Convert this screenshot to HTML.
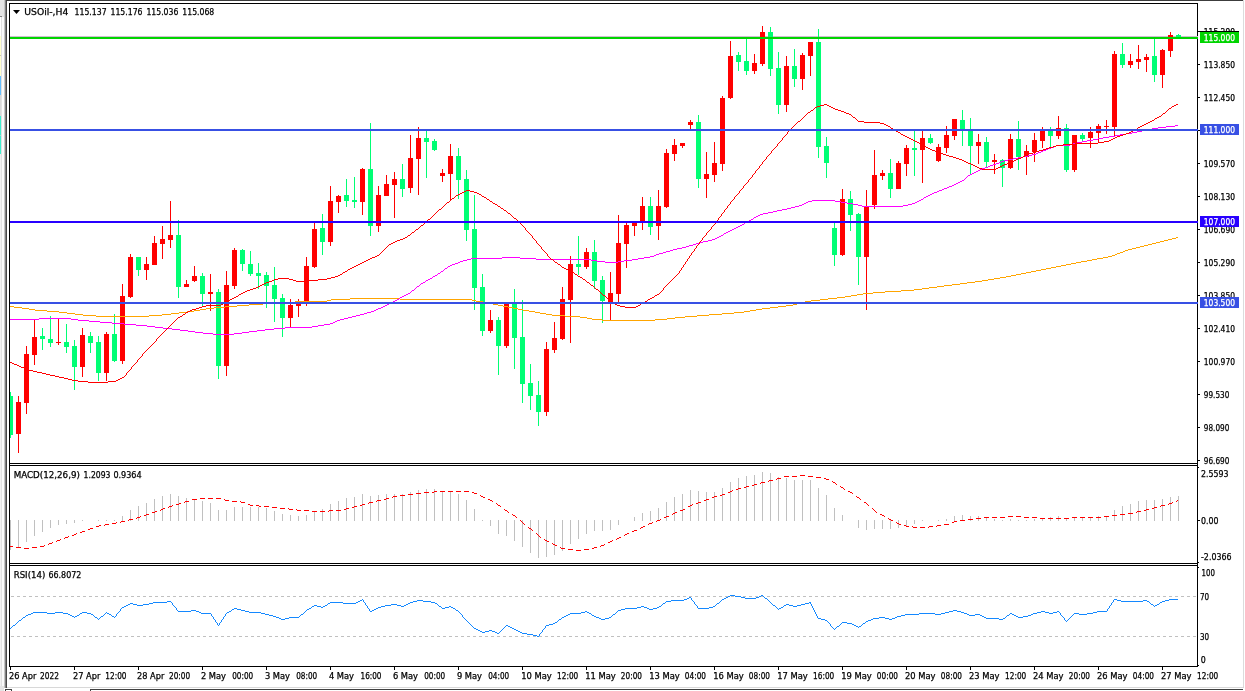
<!DOCTYPE html>
<html lang="en"><head><meta charset="utf-8"><title>USOil-,H4</title>
<style>html,body{margin:0;padding:0;background:#fff;overflow:hidden}svg{display:block}text{font-family:"DejaVu Sans Condensed","DejaVu Sans","Liberation Sans",sans-serif;font-size:9px;fill:#000;stroke:#000;stroke-width:0.25px}.w{fill:#fff;stroke:#fff}</style></head><body>
<svg width="1245" height="691" viewBox="0 0 1245 691" shape-rendering="crispEdges">
<rect x="0" y="0" width="1245" height="691" fill="#fff"/>
<g id="chrome">
<rect x="0" y="0" width="5" height="691" fill="#e4e4e4"/>
<rect x="0" y="16" width="2" height="1" fill="#808080"/>
<rect x="0" y="17" width="1" height="19" fill="#ffffff"/>
<rect x="0" y="36" width="1" height="40" fill="#ffffcc"/>
<rect x="0" y="55" width="1" height="1" fill="#c8c8b0"/>
<rect x="0" y="76" width="1" height="19" fill="#66c0ff"/>
<rect x="0" y="95" width="1" height="21" fill="#d8d8d8"/>
<rect x="0" y="116" width="1" height="38" fill="#40f0d0"/>
<rect x="0" y="135" width="1" height="1" fill="#a0e0d0"/>
<rect x="0" y="154" width="1" height="537" fill="#f0f0f0"/>
<rect x="1" y="17" width="1" height="674" fill="#e0e0e0"/>
<rect x="2" y="17" width="2" height="674" fill="#fafafa"/>
<rect x="4" y="0" width="1" height="691" fill="#c4c4c4"/>
<rect x="5" y="0" width="1" height="691" fill="#808080"/>
<rect x="6" y="0" width="1" height="691" fill="#484848"/>
<rect x="6" y="0" width="1237" height="1" fill="#3c3c3c"/>
<rect x="1243" y="0" width="1" height="689" fill="#dcdcdc"/>
<rect x="7" y="687" width="1237" height="1" fill="#d8d8d8"/>
<rect x="4" y="688" width="1241" height="3" fill="#ffffff"/>
<rect x="90" y="689" width="1153" height="1" fill="#404040"/>
<rect x="90" y="690" width="1" height="1" fill="#404040"/>
<rect x="5" y="689" width="7" height="1" fill="#404040"/>
<rect x="5" y="690" width="1" height="1" fill="#404040"/>
<rect x="11" y="690" width="1" height="1" fill="#404040"/>
<rect x="0" y="686" width="4" height="5" fill="#e4e4e4"/>
</g>
<defs><clipPath id="cm"><rect x="10" y="4" width="1187" height="459"/></clipPath><clipPath id="ct"><rect x="1198" y="20" width="45" height="11"/></clipPath></defs>
<g id="main" clip-path="url(#cm)">
<rect x="10" y="36" width="1187" height="1" fill="#d0bed0"/>
<rect x="10" y="392" width="1" height="46" fill="#00ff74"/>
<rect x="8" y="396" width="5" height="39" fill="#00ff74"/>
<rect x="18" y="396" width="1" height="57" fill="#ff0000"/>
<rect x="16" y="402" width="5" height="32" fill="#ff0000"/>
<rect x="26" y="346" width="1" height="68" fill="#ff0000"/>
<rect x="24" y="354" width="5" height="49" fill="#ff0000"/>
<rect x="34" y="320" width="1" height="45" fill="#ff0000"/>
<rect x="32" y="337" width="5" height="18" fill="#ff0000"/>
<rect x="42" y="328" width="1" height="22" fill="#00ff74"/>
<rect x="40" y="336" width="5" height="3" fill="#00ff74"/>
<rect x="50" y="316" width="1" height="31" fill="#00ff74"/>
<rect x="48" y="339" width="5" height="4" fill="#00ff74"/>
<rect x="58" y="319" width="1" height="26" fill="#ff0000"/>
<rect x="56" y="342" width="5" height="1" fill="#ff0000"/>
<rect x="66" y="324" width="1" height="29" fill="#00ff74"/>
<rect x="64" y="342" width="5" height="5" fill="#00ff74"/>
<rect x="74" y="340" width="1" height="50" fill="#00ff74"/>
<rect x="72" y="346" width="5" height="21" fill="#00ff74"/>
<rect x="82" y="328" width="1" height="49" fill="#ff0000"/>
<rect x="80" y="335" width="5" height="32" fill="#ff0000"/>
<rect x="90" y="332" width="1" height="21" fill="#00ff74"/>
<rect x="88" y="336" width="5" height="7" fill="#00ff74"/>
<rect x="98" y="336" width="1" height="45" fill="#00ff74"/>
<rect x="96" y="342" width="5" height="31" fill="#00ff74"/>
<rect x="106" y="332" width="1" height="49" fill="#ff0000"/>
<rect x="104" y="334" width="5" height="39" fill="#ff0000"/>
<rect x="114" y="314" width="1" height="48" fill="#00ff74"/>
<rect x="112" y="334" width="5" height="27" fill="#00ff74"/>
<rect x="122" y="284" width="1" height="80" fill="#ff0000"/>
<rect x="120" y="296" width="5" height="65" fill="#ff0000"/>
<rect x="130" y="254" width="1" height="44" fill="#ff0000"/>
<rect x="128" y="257" width="5" height="40" fill="#ff0000"/>
<rect x="138" y="257" width="1" height="19" fill="#00ff74"/>
<rect x="136" y="257" width="5" height="13" fill="#00ff74"/>
<rect x="146" y="257" width="1" height="23" fill="#ff0000"/>
<rect x="144" y="264" width="5" height="6" fill="#ff0000"/>
<rect x="154" y="236" width="1" height="29" fill="#ff0000"/>
<rect x="152" y="243" width="5" height="22" fill="#ff0000"/>
<rect x="162" y="226" width="1" height="33" fill="#ff0000"/>
<rect x="160" y="239" width="5" height="5" fill="#ff0000"/>
<rect x="170" y="201" width="1" height="47" fill="#ff0000"/>
<rect x="168" y="235" width="5" height="5" fill="#ff0000"/>
<rect x="178" y="220" width="1" height="78" fill="#00ff74"/>
<rect x="176" y="235" width="5" height="52" fill="#00ff74"/>
<rect x="186" y="280" width="1" height="7" fill="#ff0000"/>
<rect x="184" y="284" width="5" height="3" fill="#ff0000"/>
<rect x="194" y="266" width="1" height="16" fill="#ff0000"/>
<rect x="192" y="276" width="5" height="5" fill="#ff0000"/>
<rect x="202" y="273" width="1" height="33" fill="#00ff74"/>
<rect x="200" y="276" width="5" height="18" fill="#00ff74"/>
<rect x="210" y="274" width="1" height="37" fill="#ff0000"/>
<rect x="208" y="292" width="5" height="2" fill="#ff0000"/>
<rect x="218" y="289" width="1" height="90" fill="#00ff74"/>
<rect x="216" y="292" width="5" height="74" fill="#00ff74"/>
<rect x="226" y="271" width="1" height="105" fill="#ff0000"/>
<rect x="224" y="285" width="5" height="81" fill="#ff0000"/>
<rect x="234" y="248" width="1" height="41" fill="#ff0000"/>
<rect x="232" y="250" width="5" height="36" fill="#ff0000"/>
<rect x="242" y="249" width="1" height="22" fill="#00ff74"/>
<rect x="240" y="250" width="5" height="14" fill="#00ff74"/>
<rect x="250" y="251" width="1" height="25" fill="#00ff74"/>
<rect x="248" y="264" width="5" height="10" fill="#00ff74"/>
<rect x="258" y="263" width="1" height="26" fill="#00ff74"/>
<rect x="256" y="273" width="5" height="3" fill="#00ff74"/>
<rect x="266" y="272" width="1" height="36" fill="#00ff74"/>
<rect x="264" y="275" width="5" height="11" fill="#00ff74"/>
<rect x="274" y="267" width="1" height="55" fill="#00ff74"/>
<rect x="272" y="285" width="5" height="14" fill="#00ff74"/>
<rect x="282" y="294" width="1" height="43" fill="#00ff74"/>
<rect x="280" y="298" width="5" height="20" fill="#00ff74"/>
<rect x="290" y="299" width="1" height="28" fill="#ff0000"/>
<rect x="288" y="305" width="5" height="13" fill="#ff0000"/>
<rect x="298" y="299" width="1" height="18" fill="#ff0000"/>
<rect x="296" y="304" width="5" height="2" fill="#ff0000"/>
<rect x="306" y="257" width="1" height="49" fill="#ff0000"/>
<rect x="304" y="266" width="5" height="36" fill="#ff0000"/>
<rect x="314" y="222" width="1" height="46" fill="#ff0000"/>
<rect x="312" y="229" width="5" height="38" fill="#ff0000"/>
<rect x="322" y="214" width="1" height="41" fill="#00ff74"/>
<rect x="320" y="228" width="5" height="14" fill="#00ff74"/>
<rect x="330" y="186" width="1" height="60" fill="#ff0000"/>
<rect x="328" y="201" width="5" height="41" fill="#ff0000"/>
<rect x="338" y="195" width="1" height="18" fill="#ff0000"/>
<rect x="336" y="196" width="5" height="6" fill="#ff0000"/>
<rect x="346" y="179" width="1" height="28" fill="#00ff74"/>
<rect x="344" y="195" width="5" height="6" fill="#00ff74"/>
<rect x="354" y="177" width="1" height="31" fill="#00ff74"/>
<rect x="352" y="200" width="5" height="2" fill="#00ff74"/>
<rect x="362" y="168" width="1" height="47" fill="#ff0000"/>
<rect x="360" y="169" width="5" height="33" fill="#ff0000"/>
<rect x="370" y="123" width="1" height="113" fill="#00ff74"/>
<rect x="368" y="169" width="5" height="57" fill="#00ff74"/>
<rect x="378" y="186" width="1" height="46" fill="#ff0000"/>
<rect x="376" y="195" width="5" height="31" fill="#ff0000"/>
<rect x="386" y="175" width="1" height="21" fill="#ff0000"/>
<rect x="384" y="184" width="5" height="12" fill="#ff0000"/>
<rect x="394" y="172" width="1" height="46" fill="#ff0000"/>
<rect x="392" y="179" width="5" height="6" fill="#ff0000"/>
<rect x="402" y="164" width="1" height="33" fill="#00ff74"/>
<rect x="400" y="179" width="5" height="10" fill="#00ff74"/>
<rect x="410" y="135" width="1" height="58" fill="#ff0000"/>
<rect x="408" y="158" width="5" height="30" fill="#ff0000"/>
<rect x="418" y="127" width="1" height="68" fill="#ff0000"/>
<rect x="416" y="138" width="5" height="21" fill="#ff0000"/>
<rect x="426" y="130" width="1" height="48" fill="#00ff74"/>
<rect x="424" y="138" width="5" height="4" fill="#00ff74"/>
<rect x="434" y="139" width="1" height="12" fill="#00ff74"/>
<rect x="432" y="141" width="5" height="9" fill="#00ff74"/>
<rect x="442" y="169" width="1" height="13" fill="#ff0000"/>
<rect x="440" y="173" width="5" height="3" fill="#ff0000"/>
<rect x="450" y="144" width="1" height="56" fill="#ff0000"/>
<rect x="448" y="156" width="5" height="18" fill="#ff0000"/>
<rect x="458" y="148" width="1" height="51" fill="#00ff74"/>
<rect x="456" y="156" width="5" height="24" fill="#00ff74"/>
<rect x="466" y="170" width="1" height="71" fill="#00ff74"/>
<rect x="464" y="179" width="5" height="51" fill="#00ff74"/>
<rect x="474" y="195" width="1" height="115" fill="#00ff74"/>
<rect x="472" y="229" width="5" height="59" fill="#00ff74"/>
<rect x="482" y="274" width="1" height="62" fill="#00ff74"/>
<rect x="480" y="287" width="5" height="44" fill="#00ff74"/>
<rect x="490" y="310" width="1" height="23" fill="#ff0000"/>
<rect x="488" y="320" width="5" height="11" fill="#ff0000"/>
<rect x="498" y="317" width="1" height="58" fill="#00ff74"/>
<rect x="496" y="320" width="5" height="26" fill="#00ff74"/>
<rect x="506" y="303" width="1" height="45" fill="#ff0000"/>
<rect x="504" y="303" width="5" height="43" fill="#ff0000"/>
<rect x="514" y="289" width="1" height="80" fill="#00ff74"/>
<rect x="512" y="304" width="5" height="34" fill="#00ff74"/>
<rect x="522" y="300" width="1" height="103" fill="#00ff74"/>
<rect x="520" y="337" width="5" height="47" fill="#00ff74"/>
<rect x="530" y="364" width="1" height="46" fill="#00ff74"/>
<rect x="528" y="383" width="5" height="13" fill="#00ff74"/>
<rect x="538" y="381" width="1" height="45" fill="#00ff74"/>
<rect x="536" y="395" width="5" height="17" fill="#00ff74"/>
<rect x="546" y="342" width="1" height="74" fill="#ff0000"/>
<rect x="544" y="349" width="5" height="63" fill="#ff0000"/>
<rect x="554" y="322" width="1" height="31" fill="#ff0000"/>
<rect x="552" y="338" width="5" height="12" fill="#ff0000"/>
<rect x="562" y="287" width="1" height="53" fill="#ff0000"/>
<rect x="560" y="299" width="5" height="40" fill="#ff0000"/>
<rect x="570" y="256" width="1" height="87" fill="#ff0000"/>
<rect x="568" y="264" width="5" height="36" fill="#ff0000"/>
<rect x="578" y="236" width="1" height="39" fill="#00ff74"/>
<rect x="576" y="264" width="5" height="3" fill="#00ff74"/>
<rect x="586" y="248" width="1" height="21" fill="#ff0000"/>
<rect x="584" y="252" width="5" height="15" fill="#ff0000"/>
<rect x="594" y="240" width="1" height="49" fill="#00ff74"/>
<rect x="592" y="252" width="5" height="29" fill="#00ff74"/>
<rect x="602" y="276" width="1" height="47" fill="#00ff74"/>
<rect x="600" y="280" width="5" height="21" fill="#00ff74"/>
<rect x="610" y="272" width="1" height="48" fill="#ff0000"/>
<rect x="608" y="293" width="5" height="9" fill="#ff0000"/>
<rect x="618" y="215" width="1" height="87" fill="#ff0000"/>
<rect x="616" y="243" width="5" height="51" fill="#ff0000"/>
<rect x="626" y="223" width="1" height="45" fill="#ff0000"/>
<rect x="624" y="225" width="5" height="19" fill="#ff0000"/>
<rect x="634" y="222" width="1" height="14" fill="#ff0000"/>
<rect x="632" y="222" width="5" height="4" fill="#ff0000"/>
<rect x="642" y="197" width="1" height="33" fill="#ff0000"/>
<rect x="640" y="206" width="5" height="16" fill="#ff0000"/>
<rect x="650" y="197" width="1" height="38" fill="#00ff74"/>
<rect x="648" y="206" width="5" height="21" fill="#00ff74"/>
<rect x="658" y="190" width="1" height="50" fill="#ff0000"/>
<rect x="656" y="206" width="5" height="20" fill="#ff0000"/>
<rect x="666" y="149" width="1" height="59" fill="#ff0000"/>
<rect x="664" y="153" width="5" height="54" fill="#ff0000"/>
<rect x="674" y="139" width="1" height="22" fill="#ff0000"/>
<rect x="672" y="145" width="5" height="9" fill="#ff0000"/>
<rect x="682" y="143" width="1" height="5" fill="#ff0000"/>
<rect x="680" y="143" width="5" height="3" fill="#ff0000"/>
<rect x="690" y="120" width="1" height="10" fill="#ff0000"/>
<rect x="688" y="122" width="5" height="3" fill="#ff0000"/>
<rect x="698" y="115" width="1" height="73" fill="#00ff74"/>
<rect x="696" y="122" width="5" height="57" fill="#00ff74"/>
<rect x="706" y="152" width="1" height="46" fill="#ff0000"/>
<rect x="704" y="174" width="5" height="5" fill="#ff0000"/>
<rect x="714" y="142" width="1" height="40" fill="#ff0000"/>
<rect x="712" y="163" width="5" height="12" fill="#ff0000"/>
<rect x="722" y="96" width="1" height="75" fill="#ff0000"/>
<rect x="720" y="98" width="5" height="66" fill="#ff0000"/>
<rect x="730" y="41" width="1" height="58" fill="#ff0000"/>
<rect x="728" y="56" width="5" height="42" fill="#ff0000"/>
<rect x="738" y="52" width="1" height="19" fill="#00ff74"/>
<rect x="736" y="55" width="5" height="7" fill="#00ff74"/>
<rect x="746" y="37" width="1" height="38" fill="#00ff74"/>
<rect x="744" y="61" width="5" height="10" fill="#00ff74"/>
<rect x="754" y="54" width="1" height="20" fill="#ff0000"/>
<rect x="752" y="63" width="5" height="8" fill="#ff0000"/>
<rect x="762" y="26" width="1" height="40" fill="#ff0000"/>
<rect x="760" y="32" width="5" height="32" fill="#ff0000"/>
<rect x="770" y="27" width="1" height="49" fill="#00ff74"/>
<rect x="768" y="32" width="5" height="37" fill="#00ff74"/>
<rect x="778" y="52" width="1" height="62" fill="#00ff74"/>
<rect x="776" y="68" width="5" height="37" fill="#00ff74"/>
<rect x="786" y="56" width="1" height="56" fill="#ff0000"/>
<rect x="784" y="66" width="5" height="39" fill="#ff0000"/>
<rect x="794" y="49" width="1" height="38" fill="#00ff74"/>
<rect x="792" y="66" width="5" height="13" fill="#00ff74"/>
<rect x="802" y="53" width="1" height="37" fill="#ff0000"/>
<rect x="800" y="55" width="5" height="24" fill="#ff0000"/>
<rect x="810" y="42" width="1" height="34" fill="#ff0000"/>
<rect x="808" y="42" width="5" height="14" fill="#ff0000"/>
<rect x="818" y="29" width="1" height="129" fill="#00ff74"/>
<rect x="816" y="42" width="5" height="105" fill="#00ff74"/>
<rect x="826" y="137" width="1" height="41" fill="#00ff74"/>
<rect x="824" y="146" width="5" height="17" fill="#00ff74"/>
<rect x="834" y="221" width="1" height="45" fill="#00ff74"/>
<rect x="832" y="228" width="5" height="27" fill="#00ff74"/>
<rect x="842" y="189" width="1" height="67" fill="#ff0000"/>
<rect x="840" y="199" width="5" height="56" fill="#ff0000"/>
<rect x="850" y="191" width="1" height="40" fill="#00ff74"/>
<rect x="848" y="199" width="5" height="16" fill="#00ff74"/>
<rect x="858" y="213" width="1" height="72" fill="#00ff74"/>
<rect x="856" y="214" width="5" height="43" fill="#00ff74"/>
<rect x="866" y="190" width="1" height="120" fill="#ff0000"/>
<rect x="864" y="206" width="5" height="51" fill="#ff0000"/>
<rect x="874" y="150" width="1" height="59" fill="#ff0000"/>
<rect x="872" y="175" width="5" height="30" fill="#ff0000"/>
<rect x="882" y="170" width="1" height="10" fill="#ff0000"/>
<rect x="880" y="173" width="5" height="3" fill="#ff0000"/>
<rect x="890" y="159" width="1" height="39" fill="#00ff74"/>
<rect x="888" y="173" width="5" height="16" fill="#00ff74"/>
<rect x="898" y="161" width="1" height="28" fill="#ff0000"/>
<rect x="896" y="163" width="5" height="26" fill="#ff0000"/>
<rect x="906" y="145" width="1" height="31" fill="#ff0000"/>
<rect x="904" y="148" width="5" height="16" fill="#ff0000"/>
<rect x="914" y="130" width="1" height="46" fill="#00ff74"/>
<rect x="912" y="148" width="5" height="2" fill="#00ff74"/>
<rect x="922" y="130" width="1" height="53" fill="#ff0000"/>
<rect x="920" y="138" width="5" height="12" fill="#ff0000"/>
<rect x="930" y="134" width="1" height="10" fill="#00ff74"/>
<rect x="928" y="138" width="5" height="5" fill="#00ff74"/>
<rect x="938" y="144" width="1" height="18" fill="#ff0000"/>
<rect x="936" y="147" width="5" height="14" fill="#ff0000"/>
<rect x="946" y="126" width="1" height="27" fill="#ff0000"/>
<rect x="944" y="135" width="5" height="13" fill="#ff0000"/>
<rect x="954" y="119" width="1" height="21" fill="#ff0000"/>
<rect x="952" y="119" width="5" height="17" fill="#ff0000"/>
<rect x="962" y="110" width="1" height="36" fill="#00ff74"/>
<rect x="960" y="120" width="5" height="10" fill="#00ff74"/>
<rect x="970" y="118" width="1" height="56" fill="#00ff74"/>
<rect x="968" y="130" width="5" height="16" fill="#00ff74"/>
<rect x="978" y="134" width="1" height="30" fill="#ff0000"/>
<rect x="976" y="142" width="5" height="4" fill="#ff0000"/>
<rect x="986" y="137" width="1" height="30" fill="#00ff74"/>
<rect x="984" y="142" width="5" height="20" fill="#00ff74"/>
<rect x="994" y="154" width="1" height="20" fill="#ff0000"/>
<rect x="992" y="160" width="5" height="2" fill="#ff0000"/>
<rect x="1002" y="159" width="1" height="28" fill="#00ff74"/>
<rect x="1000" y="160" width="5" height="8" fill="#00ff74"/>
<rect x="1010" y="134" width="1" height="35" fill="#ff0000"/>
<rect x="1008" y="139" width="5" height="29" fill="#ff0000"/>
<rect x="1018" y="121" width="1" height="49" fill="#00ff74"/>
<rect x="1016" y="139" width="5" height="18" fill="#00ff74"/>
<rect x="1026" y="145" width="1" height="30" fill="#ff0000"/>
<rect x="1024" y="151" width="5" height="6" fill="#ff0000"/>
<rect x="1034" y="133" width="1" height="29" fill="#ff0000"/>
<rect x="1032" y="140" width="5" height="12" fill="#ff0000"/>
<rect x="1042" y="127" width="1" height="21" fill="#ff0000"/>
<rect x="1040" y="130" width="5" height="11" fill="#ff0000"/>
<rect x="1050" y="127" width="1" height="21" fill="#00ff74"/>
<rect x="1048" y="131" width="5" height="5" fill="#00ff74"/>
<rect x="1058" y="116" width="1" height="23" fill="#ff0000"/>
<rect x="1056" y="128" width="5" height="8" fill="#ff0000"/>
<rect x="1066" y="124" width="1" height="48" fill="#00ff74"/>
<rect x="1064" y="128" width="5" height="42" fill="#00ff74"/>
<rect x="1074" y="135" width="1" height="37" fill="#ff0000"/>
<rect x="1072" y="135" width="5" height="35" fill="#ff0000"/>
<rect x="1082" y="133" width="1" height="8" fill="#00ff74"/>
<rect x="1080" y="135" width="5" height="4" fill="#00ff74"/>
<rect x="1090" y="127" width="1" height="21" fill="#ff0000"/>
<rect x="1088" y="132" width="5" height="6" fill="#ff0000"/>
<rect x="1098" y="124" width="1" height="19" fill="#ff0000"/>
<rect x="1096" y="126" width="5" height="7" fill="#ff0000"/>
<rect x="1106" y="120" width="1" height="14" fill="#ff0000"/>
<rect x="1104" y="126" width="5" height="1" fill="#ff0000"/>
<rect x="1114" y="51" width="1" height="85" fill="#ff0000"/>
<rect x="1112" y="54" width="5" height="73" fill="#ff0000"/>
<rect x="1122" y="43" width="1" height="25" fill="#00ff74"/>
<rect x="1120" y="54" width="5" height="11" fill="#00ff74"/>
<rect x="1130" y="54" width="1" height="14" fill="#ff0000"/>
<rect x="1128" y="61" width="5" height="4" fill="#ff0000"/>
<rect x="1138" y="45" width="1" height="24" fill="#ff0000"/>
<rect x="1136" y="59" width="5" height="3" fill="#ff0000"/>
<rect x="1146" y="54" width="1" height="18" fill="#ff0000"/>
<rect x="1144" y="57" width="5" height="3" fill="#ff0000"/>
<rect x="1154" y="38" width="1" height="44" fill="#00ff74"/>
<rect x="1152" y="56" width="5" height="19" fill="#00ff74"/>
<rect x="1162" y="49" width="1" height="39" fill="#ff0000"/>
<rect x="1160" y="50" width="5" height="25" fill="#ff0000"/>
<rect x="1170" y="32" width="1" height="25" fill="#ff0000"/>
<rect x="1168" y="35" width="5" height="16" fill="#ff0000"/>
<rect x="1178" y="34" width="1" height="3" fill="#00ff74"/>
<rect x="1176" y="35" width="5" height="2" fill="#00ff74"/>
<path d="M10 306h4v1h-4zM14 307h8v1h-8zM22 308h7v1h-7zM29 309h6v1h-6zM35 310h12v1h-12zM47 311h12v1h-12zM59 312h8v1h-8zM67 313h8v1h-8zM75 314h8v1h-8zM83 315h13v1h-13zM96 316h53v1h-53zM149 315h13v1h-13zM162 314h9v1h-9zM171 313h8v1h-8zM179 312h8v1h-8zM187 311h7v1h-7zM194 310h6v1h-6zM200 309h6v1h-6zM206 308h8v1h-8zM214 307h11v1h-11zM225 306h12v1h-12zM237 305h12v1h-12zM249 304h14v1h-14zM263 303h16v1h-16zM279 302h16v1h-16zM295 301h32v1h-32zM327 300h4v1h-4zM331 299h19v1h-19zM350 298h50v1h-50zM400 299h72v1h-72zM472 300h4v1h-4zM476 301h7v1h-7zM483 302h5v1h-5zM488 303h5v1h-5zM493 304h5v1h-5zM498 305h5v1h-5zM503 306h5v1h-5zM508 307h5v1h-5zM513 308h5v1h-5zM518 309h5v1h-5zM523 310h6v1h-6zM529 311h6v1h-6zM535 312h5v1h-5zM540 313h6v1h-6zM546 314h6v1h-6zM552 315h13v1h-13zM565 316h15v1h-15zM580 317h7v1h-7zM587 318h5v1h-5zM592 319h10v1h-10zM602 320h53v1h-53zM655 319h12v1h-12zM667 318h8v1h-8zM675 317h10v1h-10zM685 316h12v1h-12zM697 315h12v1h-12zM709 314h13v1h-13zM722 313h12v1h-12zM734 312h10v1h-10zM744 311h6v1h-6zM750 310h6v1h-6zM756 309h6v1h-6zM762 308h8v1h-8zM770 307h8v1h-8zM778 306h8v1h-8zM786 305h7v1h-7zM793 304h4v1h-4zM797 303h4v1h-4zM801 302h4v1h-4zM805 301h6v1h-6zM811 300h9v1h-9zM820 299h8v1h-8zM828 298h9v1h-9zM837 297h8v1h-8zM845 296h6v1h-6zM851 295h6v1h-6zM857 294h6v1h-6zM863 293h10v1h-10zM873 292h12v1h-12zM885 291h16v1h-16zM901 290h13v1h-13zM914 289h8v1h-8zM922 288h7v1h-7zM929 287h8v1h-8zM937 286h7v1h-7zM944 285h8v1h-8zM952 284h8v1h-8zM960 283h7v1h-7zM967 282h8v1h-8zM975 281h7v1h-7zM982 280h6v1h-6zM988 279h6v1h-6zM994 278h6v1h-6zM1000 277h6v1h-6zM1006 276h5v1h-5zM1011 275h5v1h-5zM1016 274h5v1h-5zM1021 273h5v1h-5zM1026 272h5v1h-5zM1031 271h5v1h-5zM1036 270h5v1h-5zM1041 269h5v1h-5zM1046 268h5v1h-5zM1051 267h5v1h-5zM1056 266h5v1h-5zM1061 265h5v1h-5zM1066 264h5v1h-5zM1071 263h5v1h-5zM1076 262h5v1h-5zM1081 261h6v1h-6zM1087 260h5v1h-5zM1092 259h5v1h-5zM1097 258h6v1h-6zM1103 257h5v1h-5zM1108 256h4v1h-4zM1112 255h3v1h-3zM1115 254h2v1h-2zM1117 253h3v1h-3zM1120 252h3v1h-3zM1123 251h2v1h-2zM1125 250h3v1h-3zM1128 249h4v1h-4zM1132 248h4v1h-4zM1136 247h4v1h-4zM1140 246h4v1h-4zM1144 245h4v1h-4zM1148 244h4v1h-4zM1152 243h4v1h-4zM1156 242h4v1h-4zM1160 241h4v1h-4zM1164 240h4v1h-4zM1168 239h4v1h-4zM1172 238h4v1h-4zM1176 237h2v1h-2z" fill="#ffa500"/>
<path d="M10 319h29v1h-29zM39 318h32v1h-32zM71 319h7v1h-7zM78 320h11v1h-11zM89 321h11v1h-11zM100 322h12v1h-12zM112 323h12v1h-12zM124 324h12v1h-12zM136 325h11v1h-11zM147 326h8v1h-8zM155 327h8v1h-8zM163 328h9v1h-9zM172 329h8v1h-8zM180 330h8v1h-8zM188 331h7v1h-7zM195 332h8v1h-8zM203 333h10v1h-10zM213 334h21v1h-21zM234 333h8v1h-8zM242 332h7v1h-7zM249 331h8v1h-8zM257 330h8v1h-8zM265 329h9v1h-9zM274 328h11v1h-11zM285 327h27v1h-27zM312 326h6v1h-6zM318 325h6v1h-6zM324 324h6v1h-6zM330 323h3v1h-3zM333 322h2v1h-2zM335 321h2v1h-2zM337 320h3v1h-3zM340 319h4v1h-4zM344 318h4v1h-4zM348 317h4v1h-4zM352 316h4v1h-4zM356 315h4v1h-4zM360 314h4v1h-4zM364 313h3v1h-3zM367 312h4v1h-4zM371 311h3v1h-3zM374 310h2v1h-2zM376 309h2v1h-2zM378 308h3v1h-3zM381 307h2v1h-2zM383 306h2v1h-2zM385 305h2v1h-2zM387 304h2v1h-2zM389 303h2v1h-2zM391 302h2v1h-2zM393 301h2v1h-2zM395 300h2v1h-2zM397 299h2v1h-2zM399 298h1v1h-1zM400 297h2v1h-2zM402 296h2v1h-2zM404 295h2v1h-2zM406 294h2v1h-2zM408 293h2v1h-2zM410 292h1v1h-1zM411 291h1v1h-1zM412 290h2v1h-2zM414 289h1v1h-1zM415 288h1v1h-1zM416 287h1v1h-1zM417 286h2v1h-2zM419 285h1v1h-1zM420 284h1v1h-1zM421 283h2v1h-2zM423 282h2v1h-2zM425 281h1v1h-1zM426 280h2v1h-2zM428 279h2v1h-2zM430 278h2v1h-2zM432 277h1v1h-1zM433 276h2v1h-2zM435 275h2v1h-2zM437 274h1v1h-1zM438 273h2v1h-2zM440 272h1v1h-1zM441 271h2v1h-2zM443 270h1v1h-1zM444 269h1v1h-1zM445 268h2v1h-2zM447 267h1v1h-1zM448 266h2v1h-2zM450 265h2v1h-2zM452 264h3v1h-3zM455 263h3v1h-3zM458 262h2v1h-2zM460 261h3v1h-3zM463 260h4v1h-4zM467 259h4v1h-4zM471 258h31v1h-31zM502 257h18v1h-18zM520 258h16v1h-16zM536 259h55v1h-55zM591 260h6v1h-6zM597 261h8v1h-8zM605 262h13v1h-13zM618 261h6v1h-6zM624 260h8v1h-8zM632 259h6v1h-6zM638 258h6v1h-6zM644 257h6v1h-6zM650 256h4v1h-4zM654 255h2v1h-2zM656 254h3v1h-3zM659 253h4v1h-4zM663 252h3v1h-3zM666 251h4v1h-4zM670 250h3v1h-3zM673 249h4v1h-4zM677 248h5v1h-5zM682 247h4v1h-4zM686 246h3v1h-3zM689 245h4v1h-4zM693 244h3v1h-3zM696 243h3v1h-3zM699 242h4v1h-4zM703 241h5v1h-5zM708 240h4v1h-4zM712 239h3v1h-3zM715 238h2v1h-2zM717 237h2v1h-2zM719 236h2v1h-2zM721 235h2v1h-2zM723 234h1v1h-1zM724 233h2v1h-2zM726 232h2v1h-2zM728 231h2v1h-2zM730 230h2v1h-2zM732 229h2v1h-2zM734 228h2v1h-2zM736 227h2v1h-2zM738 226h2v1h-2zM740 225h2v1h-2zM742 224h2v1h-2zM744 223h1v1h-1zM745 222h2v1h-2zM747 221h2v1h-2zM749 220h2v1h-2zM751 219h2v1h-2zM753 218h1v1h-1zM754 217h2v1h-2zM756 216h2v1h-2zM758 215h2v1h-2zM760 214h3v1h-3zM763 213h5v1h-5zM768 212h5v1h-5zM773 211h4v1h-4zM777 210h5v1h-5zM782 209h5v1h-5zM787 208h4v1h-4zM791 207h4v1h-4zM795 206h4v1h-4zM799 205h3v1h-3zM802 204h2v1h-2zM804 203h2v1h-2zM806 202h2v1h-2zM808 201h4v1h-4zM812 200h23v1h-23zM835 201h6v1h-6zM841 202h6v1h-6zM847 203h6v1h-6zM853 204h5v1h-5zM858 205h4v1h-4zM862 206h41v1h-41zM903 205h5v1h-5zM908 204h4v1h-4zM912 203h3v1h-3zM915 202h2v1h-2zM917 201h2v1h-2zM919 200h2v1h-2zM921 199h2v1h-2zM923 198h1v1h-1zM924 197h2v1h-2zM926 196h2v1h-2zM928 195h2v1h-2zM930 194h2v1h-2zM932 193h2v1h-2zM934 192h3v1h-3zM937 191h2v1h-2zM939 190h3v1h-3zM942 189h2v1h-2zM944 188h3v1h-3zM947 187h2v1h-2zM949 186h3v1h-3zM952 185h2v1h-2zM954 184h2v1h-2zM956 183h2v1h-2zM958 182h2v1h-2zM960 181h2v1h-2zM962 180h2v1h-2zM964 179h1v1h-1zM965 178h1v1h-1zM966 177h1v1h-1zM967 176h1v1h-1zM968 175h2v1h-2zM970 174h2v1h-2zM972 173h2v1h-2zM974 172h2v1h-2zM976 171h2v1h-2zM978 170h2v1h-2zM980 169h2v1h-2zM982 168h3v1h-3zM985 167h3v1h-3zM988 166h2v1h-2zM990 165h3v1h-3zM993 164h3v1h-3zM996 163h3v1h-3zM999 162h2v1h-2zM1001 161h3v1h-3zM1004 160h4v1h-4zM1008 159h5v1h-5zM1013 158h5v1h-5zM1018 157h5v1h-5zM1023 156h5v1h-5zM1028 155h4v1h-4zM1032 154h4v1h-4zM1036 153h2v1h-2zM1038 152h3v1h-3zM1041 151h2v1h-2zM1043 150h3v1h-3zM1046 149h2v1h-2zM1048 148h3v1h-3zM1051 147h3v1h-3zM1054 146h2v1h-2zM1056 145h14v1h-14zM1070 144h3v1h-3zM1073 143h4v1h-4zM1077 142h5v1h-5zM1082 141h5v1h-5zM1087 140h6v1h-6zM1093 139h5v1h-5zM1098 138h5v1h-5zM1103 137h6v1h-6zM1109 136h6v1h-6zM1115 135h5v1h-5zM1120 134h6v1h-6zM1126 133h6v1h-6zM1132 132h5v1h-5zM1137 131h5v1h-5zM1142 130h5v1h-5zM1147 129h5v1h-5zM1152 128h6v1h-6zM1158 127h8v1h-8zM1166 126h9v1h-9zM1175 125h3v1h-3z" fill="#ff00ff"/>
<path d="M10 362h2v1h-2zM12 363h2v1h-2zM14 364h3v1h-3zM17 365h2v1h-2zM19 366h2v1h-2zM21 367h3v1h-3zM24 368h3v1h-3zM27 369h2v1h-2zM29 370h4v1h-4zM33 371h4v1h-4zM37 372h5v1h-5zM42 373h4v1h-4zM46 374h4v1h-4zM50 375h5v1h-5zM55 376h4v1h-4zM59 377h5v1h-5zM64 378h4v1h-4zM68 379h4v1h-4zM72 380h6v1h-6zM78 381h10v1h-10zM88 382h20v1h-20zM108 381h8v1h-8zM116 380h2v1h-2zM118 379h2v1h-2zM120 378h2v1h-2zM122 377h2v1h-2zM124 376h1v1h-1zM125 375h1v1h-1zM126 373h1v2h-1zM127 372h1v1h-1zM128 371h1v1h-1zM129 370h1v1h-1zM130 369h1v1h-1zM131 367h1v2h-1zM132 366h1v1h-1zM133 365h1v1h-1zM134 364h1v1h-1zM135 363h1v1h-1zM136 362h1v1h-1zM137 360h1v2h-1zM138 359h1v1h-1zM139 358h1v1h-1zM140 357h1v1h-1zM141 356h1v1h-1zM142 354h1v2h-1zM143 353h1v1h-1zM144 352h1v1h-1zM145 351h1v1h-1zM146 350h1v1h-1zM147 349h1v1h-1zM148 348h1v1h-1zM149 347h1v1h-1zM150 346h1v1h-1zM151 345h1v1h-1zM152 344h1v1h-1zM153 343h1v1h-1zM154 342h1v1h-1zM155 341h1v1h-1zM156 339h1v2h-1zM157 338h1v1h-1zM158 337h1v1h-1zM159 336h1v1h-1zM160 335h1v1h-1zM161 334h1v1h-1zM162 333h1v1h-1zM163 332h1v1h-1zM164 331h1v1h-1zM165 330h1v1h-1zM166 329h1v1h-1zM167 328h1v1h-1zM168 327h1v1h-1zM169 326h1v1h-1zM170 325h1v1h-1zM171 324h1v1h-1zM172 323h1v1h-1zM173 322h1v1h-1zM174 321h1v1h-1zM175 320h1v1h-1zM176 319h1v1h-1zM177 318h1v1h-1zM178 317h2v1h-2zM180 316h2v1h-2zM182 315h1v1h-1zM183 314h2v1h-2zM185 313h1v1h-1zM186 312h2v1h-2zM188 311h2v1h-2zM190 310h2v1h-2zM192 309h4v1h-4zM196 308h3v1h-3zM199 307h3v1h-3zM202 306h4v1h-4zM206 305h15v1h-15zM221 304h2v1h-2zM223 303h2v1h-2zM225 302h2v1h-2zM227 301h2v1h-2zM229 300h1v1h-1zM230 299h2v1h-2zM232 298h2v1h-2zM234 297h2v1h-2zM236 296h2v1h-2zM238 295h1v1h-1zM239 294h2v1h-2zM241 293h2v1h-2zM243 292h2v1h-2zM245 291h2v1h-2zM247 290h3v1h-3zM250 289h3v1h-3zM253 288h3v1h-3zM256 287h2v1h-2zM258 286h2v1h-2zM260 285h2v1h-2zM262 284h2v1h-2zM264 283h2v1h-2zM266 282h3v1h-3zM269 281h3v1h-3zM272 280h2v1h-2zM274 279h4v1h-4zM278 278h11v1h-11zM289 279h4v1h-4zM293 280h3v1h-3zM296 281h12v1h-12zM308 280h10v1h-10zM318 279h9v1h-9zM327 278h4v1h-4zM331 277h4v1h-4zM335 276h3v1h-3zM338 275h2v1h-2zM340 274h2v1h-2zM342 273h1v1h-1zM343 272h2v1h-2zM345 271h2v1h-2zM347 270h1v1h-1zM348 269h2v1h-2zM350 268h2v1h-2zM352 267h2v1h-2zM354 266h2v1h-2zM356 265h2v1h-2zM358 264h2v1h-2zM360 263h2v1h-2zM362 262h2v1h-2zM364 261h2v1h-2zM366 260h2v1h-2zM368 259h2v1h-2zM370 258h2v1h-2zM372 257h3v1h-3zM375 256h2v1h-2zM377 255h2v1h-2zM379 254h1v1h-1zM380 253h1v1h-1zM381 252h1v1h-1zM382 251h1v1h-1zM383 250h1v1h-1zM384 249h1v1h-1zM385 248h1v1h-1zM386 247h1v1h-1zM387 246h1v1h-1zM388 245h1v1h-1zM389 244h2v1h-2zM391 243h2v1h-2zM393 242h2v1h-2zM395 241h2v1h-2zM397 240h3v1h-3zM400 239h3v1h-3zM403 238h2v1h-2zM405 237h2v1h-2zM407 236h1v1h-1zM408 235h2v1h-2zM410 234h1v1h-1zM411 233h1v1h-1zM412 232h2v1h-2zM414 231h1v1h-1zM415 230h1v1h-1zM416 229h2v1h-2zM418 228h1v1h-1zM419 227h1v1h-1zM420 226h1v1h-1zM421 225h2v1h-2zM423 224h1v1h-1zM424 223h1v1h-1zM425 222h1v1h-1zM426 221h1v1h-1zM427 220h1v1h-1zM428 219h2v1h-2zM430 218h1v1h-1zM431 217h1v1h-1zM432 216h1v1h-1zM433 215h1v1h-1zM434 214h1v1h-1zM435 213h1v1h-1zM436 212h1v1h-1zM437 211h1v1h-1zM438 210h1v1h-1zM439 209h2v1h-2zM441 208h1v1h-1zM442 207h1v1h-1zM443 206h1v1h-1zM444 205h1v1h-1zM445 204h1v1h-1zM446 203h1v1h-1zM447 202h2v1h-2zM449 201h1v1h-1zM450 200h1v1h-1zM451 199h1v1h-1zM452 198h2v1h-2zM454 197h1v1h-1zM455 196h1v1h-1zM456 195h2v1h-2zM458 194h2v1h-2zM460 193h2v1h-2zM462 192h2v1h-2zM464 191h2v1h-2zM466 190h4v1h-4zM470 191h4v1h-4zM474 192h3v1h-3zM477 193h2v1h-2zM479 194h2v1h-2zM481 195h1v1h-1zM482 196h2v1h-2zM484 197h2v1h-2zM486 198h1v1h-1zM487 199h2v1h-2zM489 200h1v1h-1zM490 201h2v1h-2zM492 202h1v1h-1zM493 203h2v1h-2zM495 204h2v1h-2zM497 205h1v1h-1zM498 206h2v1h-2zM500 207h1v1h-1zM501 208h2v1h-2zM503 209h1v1h-1zM504 210h2v1h-2zM506 211h1v1h-1zM507 212h1v1h-1zM508 213h2v1h-2zM510 214h1v1h-1zM511 215h1v1h-1zM512 216h1v1h-1zM513 217h1v1h-1zM514 218h2v1h-2zM516 219h1v1h-1zM517 220h1v1h-1zM518 221h1v1h-1zM519 222h1v1h-1zM520 223h1v1h-1zM521 224h1v1h-1zM522 225h1v1h-1zM523 226h1v1h-1zM524 227h1v1h-1zM525 228h1v2h-1zM526 230h1v1h-1zM527 231h1v1h-1zM528 232h1v1h-1zM529 233h1v1h-1zM530 234h1v1h-1zM531 235h1v1h-1zM532 236h1v2h-1zM533 238h1v1h-1zM534 239h1v1h-1zM535 240h1v1h-1zM536 241h1v2h-1zM537 243h1v1h-1zM538 244h1v1h-1zM539 245h1v1h-1zM540 246h1v1h-1zM541 247h1v2h-1zM542 249h1v1h-1zM543 250h1v1h-1zM544 251h1v1h-1zM545 252h1v1h-1zM546 253h1v1h-1zM547 254h1v2h-1zM548 256h1v1h-1zM549 257h1v1h-1zM550 258h1v1h-1zM551 259h2v1h-2zM553 260h1v1h-1zM554 261h1v1h-1zM555 262h2v1h-2zM557 263h1v1h-1zM558 264h2v1h-2zM560 265h1v1h-1zM561 266h1v1h-1zM562 267h2v1h-2zM564 268h2v1h-2zM566 269h2v1h-2zM568 270h2v1h-2zM570 271h2v1h-2zM572 272h2v1h-2zM574 273h1v1h-1zM575 274h2v1h-2zM577 275h1v1h-1zM578 276h2v1h-2zM580 277h2v1h-2zM582 278h1v1h-1zM583 279h2v1h-2zM585 280h1v1h-1zM586 281h1v1h-1zM587 282h2v1h-2zM589 283h1v1h-1zM590 284h1v1h-1zM591 285h2v1h-2zM593 286h1v1h-1zM594 287h1v1h-1zM595 288h1v1h-1zM596 289h2v1h-2zM598 290h1v1h-1zM599 291h1v1h-1zM600 292h1v1h-1zM601 293h1v1h-1zM602 294h1v1h-1zM603 295h2v1h-2zM605 296h1v1h-1zM606 297h1v1h-1zM607 298h1v1h-1zM608 299h1v1h-1zM609 300h1v1h-1zM610 301h2v1h-2zM612 302h2v1h-2zM614 303h1v1h-1zM615 304h2v1h-2zM617 305h3v1h-3zM620 306h5v1h-5zM625 307h11v1h-11zM636 306h2v1h-2zM638 305h2v1h-2zM640 304h1v1h-1zM641 303h2v1h-2zM643 302h2v1h-2zM645 301h2v1h-2zM647 300h1v1h-1zM648 299h2v1h-2zM650 298h2v1h-2zM652 297h2v1h-2zM654 296h1v1h-1zM655 295h2v1h-2zM657 294h2v1h-2zM659 293h1v1h-1zM660 292h1v1h-1zM661 291h1v1h-1zM662 290h1v1h-1zM663 288h1v2h-1zM664 287h1v1h-1zM665 286h1v1h-1zM666 285h1v1h-1zM667 284h1v1h-1zM668 283h1v1h-1zM669 282h1v1h-1zM670 281h1v1h-1zM671 280h1v1h-1zM672 279h1v1h-1zM673 278h1v1h-1zM674 277h1v1h-1zM675 276h1v1h-1zM676 275h1v1h-1zM677 274h1v1h-1zM678 273h1v1h-1zM679 271h1v2h-1zM680 270h1v1h-1zM681 268h1v2h-1zM682 267h1v1h-1zM683 265h1v2h-1zM684 264h1v1h-1zM685 262h1v2h-1zM686 261h1v1h-1zM687 259h1v2h-1zM688 258h1v1h-1zM689 256h1v2h-1zM690 255h1v1h-1zM691 253h1v2h-1zM692 252h1v1h-1zM693 251h1v1h-1zM694 249h1v2h-1zM695 248h1v1h-1zM696 246h1v2h-1zM697 245h1v1h-1zM698 244h1v1h-1zM699 242h1v2h-1zM700 241h1v1h-1zM701 240h1v1h-1zM702 238h1v2h-1zM703 237h1v1h-1zM704 236h1v1h-1zM705 235h1v1h-1zM706 233h1v2h-1zM707 232h1v1h-1zM708 231h1v1h-1zM709 230h1v1h-1zM710 229h1v1h-1zM711 227h1v2h-1zM712 226h1v1h-1zM713 225h1v1h-1zM714 224h1v1h-1zM715 222h1v2h-1zM716 221h1v1h-1zM717 220h1v1h-1zM718 218h1v2h-1zM719 217h1v1h-1zM720 216h1v1h-1zM721 214h1v2h-1zM722 213h1v1h-1zM723 212h1v1h-1zM724 210h1v2h-1zM725 209h1v1h-1zM726 208h1v1h-1zM727 206h1v2h-1zM728 205h1v1h-1zM729 204h1v1h-1zM730 202h1v2h-1zM731 201h1v1h-1zM732 200h1v1h-1zM733 199h1v1h-1zM734 197h1v2h-1zM735 196h1v1h-1zM736 195h1v1h-1zM737 194h1v1h-1zM738 193h1v1h-1zM739 191h1v2h-1zM740 190h1v1h-1zM741 189h1v1h-1zM742 188h1v1h-1zM743 186h1v2h-1zM744 185h1v1h-1zM745 184h1v1h-1zM746 183h1v1h-1zM747 182h1v1h-1zM748 180h1v2h-1zM749 179h1v1h-1zM750 178h1v1h-1zM751 177h1v1h-1zM752 175h1v2h-1zM753 174h1v1h-1zM754 173h1v1h-1zM755 171h1v2h-1zM756 170h1v1h-1zM757 169h1v1h-1zM758 168h1v1h-1zM759 166h1v2h-1zM760 165h1v1h-1zM761 164h1v1h-1zM762 162h1v2h-1zM763 161h1v1h-1zM764 160h1v1h-1zM765 159h1v1h-1zM766 157h1v2h-1zM767 156h1v1h-1zM768 155h1v1h-1zM769 154h1v1h-1zM770 153h1v1h-1zM771 151h1v2h-1zM772 150h1v1h-1zM773 149h1v1h-1zM774 148h1v1h-1zM775 147h1v1h-1zM776 146h1v1h-1zM777 144h1v2h-1zM778 143h1v1h-1zM779 142h1v1h-1zM780 141h1v1h-1zM781 140h1v1h-1zM782 138h1v2h-1zM783 137h1v1h-1zM784 136h1v1h-1zM785 135h1v1h-1zM786 134h1v1h-1zM787 132h1v2h-1zM788 131h1v1h-1zM789 130h1v1h-1zM790 129h1v1h-1zM791 128h1v1h-1zM792 127h1v1h-1zM793 126h1v1h-1zM794 125h1v1h-1zM795 124h1v1h-1zM796 123h1v1h-1zM797 122h1v1h-1zM798 121h2v1h-2zM800 120h1v1h-1zM801 119h1v1h-1zM802 118h1v1h-1zM803 117h1v1h-1zM804 116h1v1h-1zM805 115h1v1h-1zM806 114h1v1h-1zM807 113h1v1h-1zM808 112h2v1h-2zM810 111h1v1h-1zM811 110h2v1h-2zM813 109h1v1h-1zM814 108h1v1h-1zM815 107h2v1h-2zM817 106h3v1h-3zM820 105h4v1h-4zM824 104h3v1h-3zM827 105h2v1h-2zM829 106h2v1h-2zM831 107h2v1h-2zM833 108h2v1h-2zM835 109h3v1h-3zM838 110h3v1h-3zM841 111h3v1h-3zM844 112h2v1h-2zM846 113h3v1h-3zM849 114h2v1h-2zM851 115h1v1h-1zM852 116h1v1h-1zM853 117h2v1h-2zM855 118h1v1h-1zM856 119h1v1h-1zM857 120h1v1h-1zM858 121h6v1h-6zM864 122h16v1h-16zM880 123h4v1h-4zM884 124h2v1h-2zM886 125h2v1h-2zM888 126h2v1h-2zM890 127h1v1h-1zM891 128h2v1h-2zM893 129h1v1h-1zM894 130h2v1h-2zM896 131h2v1h-2zM898 132h2v1h-2zM900 133h1v1h-1zM901 134h2v1h-2zM903 135h2v1h-2zM905 136h2v1h-2zM907 137h2v1h-2zM909 138h2v1h-2zM911 139h2v1h-2zM913 140h2v1h-2zM915 141h2v1h-2zM917 142h2v1h-2zM919 143h2v1h-2zM921 144h2v1h-2zM923 145h2v1h-2zM925 146h1v1h-1zM926 147h2v1h-2zM928 148h2v1h-2zM930 149h2v1h-2zM932 150h3v1h-3zM935 151h3v1h-3zM938 152h2v1h-2zM940 153h3v1h-3zM943 154h3v1h-3zM946 155h3v1h-3zM949 156h4v1h-4zM953 157h3v1h-3zM956 158h3v1h-3zM959 159h3v1h-3zM962 160h2v1h-2zM964 161h2v1h-2zM966 162h2v1h-2zM968 163h3v1h-3zM971 164h2v1h-2zM973 165h2v1h-2zM975 166h2v1h-2zM977 167h2v1h-2zM979 168h3v1h-3zM982 169h14v1h-14zM996 168h2v1h-2zM998 167h2v1h-2zM1000 166h2v1h-2zM1002 165h2v1h-2zM1004 164h3v1h-3zM1007 163h2v1h-2zM1009 162h3v1h-3zM1012 161h2v1h-2zM1014 160h2v1h-2zM1016 159h2v1h-2zM1018 158h3v1h-3zM1021 157h2v1h-2zM1023 156h2v1h-2zM1025 155h2v1h-2zM1027 154h2v1h-2zM1029 153h4v1h-4zM1033 152h3v1h-3zM1036 151h3v1h-3zM1039 150h4v1h-4zM1043 149h3v1h-3zM1046 148h3v1h-3zM1049 147h4v1h-4zM1053 146h3v1h-3zM1056 145h7v1h-7zM1063 144h12v1h-12zM1075 143h23v1h-23zM1098 142h6v1h-6zM1104 141h5v1h-5zM1109 140h2v1h-2zM1111 139h2v1h-2zM1113 138h2v1h-2zM1115 137h2v1h-2zM1117 136h3v1h-3zM1120 135h3v1h-3zM1123 134h3v1h-3zM1126 133h3v1h-3zM1129 132h2v1h-2zM1131 131h2v1h-2zM1133 130h2v1h-2zM1135 129h2v1h-2zM1137 128h1v1h-1zM1138 127h2v1h-2zM1140 126h2v1h-2zM1142 125h2v1h-2zM1144 124h2v1h-2zM1146 123h2v1h-2zM1148 122h2v1h-2zM1150 121h2v1h-2zM1152 120h2v1h-2zM1154 119h1v1h-1zM1155 118h2v1h-2zM1157 117h2v1h-2zM1159 116h2v1h-2zM1161 115h1v1h-1zM1162 114h1v1h-1zM1163 113h2v1h-2zM1165 112h1v1h-1zM1166 111h1v1h-1zM1167 110h1v1h-1zM1168 109h1v1h-1zM1169 108h2v1h-2zM1171 107h1v1h-1zM1172 106h2v1h-2zM1174 105h2v1h-2zM1176 104h2v1h-2z" fill="#ff0000"/>
</g>
<g id="macd">
<rect x="10" y="520" width="1" height="30" fill="#c0c0c0"/>
<rect x="18" y="520" width="1" height="27" fill="#c0c0c0"/>
<rect x="26" y="520" width="1" height="22" fill="#c0c0c0"/>
<rect x="34" y="520" width="1" height="16" fill="#c0c0c0"/>
<rect x="42" y="520" width="1" height="12" fill="#c0c0c0"/>
<rect x="50" y="520" width="1" height="8" fill="#c0c0c0"/>
<rect x="58" y="520" width="1" height="5" fill="#c0c0c0"/>
<rect x="66" y="520" width="1" height="4" fill="#c0c0c0"/>
<rect x="74" y="520" width="1" height="3" fill="#c0c0c0"/>
<rect x="82" y="520" width="1" height="1" fill="#c0c0c0"/>
<rect x="98" y="520" width="1" height="1" fill="#c0c0c0"/>
<rect x="106" y="520" width="1" height="1" fill="#c0c0c0"/>
<rect x="114" y="520" width="1" height="1" fill="#c0c0c0"/>
<rect x="122" y="516" width="1" height="5" fill="#c0c0c0"/>
<rect x="130" y="510" width="1" height="11" fill="#c0c0c0"/>
<rect x="138" y="506" width="1" height="15" fill="#c0c0c0"/>
<rect x="146" y="503" width="1" height="18" fill="#c0c0c0"/>
<rect x="154" y="499" width="1" height="22" fill="#c0c0c0"/>
<rect x="162" y="496" width="1" height="25" fill="#c0c0c0"/>
<rect x="170" y="494" width="1" height="27" fill="#c0c0c0"/>
<rect x="178" y="496" width="1" height="25" fill="#c0c0c0"/>
<rect x="186" y="498" width="1" height="23" fill="#c0c0c0"/>
<rect x="194" y="500" width="1" height="21" fill="#c0c0c0"/>
<rect x="202" y="501" width="1" height="20" fill="#c0c0c0"/>
<rect x="210" y="503" width="1" height="18" fill="#c0c0c0"/>
<rect x="218" y="510" width="1" height="11" fill="#c0c0c0"/>
<rect x="226" y="510" width="1" height="11" fill="#c0c0c0"/>
<rect x="234" y="507" width="1" height="14" fill="#c0c0c0"/>
<rect x="242" y="507" width="1" height="14" fill="#c0c0c0"/>
<rect x="250" y="507" width="1" height="14" fill="#c0c0c0"/>
<rect x="258" y="507" width="1" height="14" fill="#c0c0c0"/>
<rect x="266" y="508" width="1" height="13" fill="#c0c0c0"/>
<rect x="274" y="511" width="1" height="10" fill="#c0c0c0"/>
<rect x="282" y="514" width="1" height="7" fill="#c0c0c0"/>
<rect x="290" y="515" width="1" height="6" fill="#c0c0c0"/>
<rect x="298" y="516" width="1" height="5" fill="#c0c0c0"/>
<rect x="306" y="515" width="1" height="6" fill="#c0c0c0"/>
<rect x="314" y="512" width="1" height="9" fill="#c0c0c0"/>
<rect x="322" y="509" width="1" height="12" fill="#c0c0c0"/>
<rect x="330" y="504" width="1" height="17" fill="#c0c0c0"/>
<rect x="338" y="501" width="1" height="20" fill="#c0c0c0"/>
<rect x="346" y="498" width="1" height="23" fill="#c0c0c0"/>
<rect x="354" y="497" width="1" height="24" fill="#c0c0c0"/>
<rect x="362" y="494" width="1" height="27" fill="#c0c0c0"/>
<rect x="370" y="496" width="1" height="25" fill="#c0c0c0"/>
<rect x="378" y="495" width="1" height="26" fill="#c0c0c0"/>
<rect x="386" y="494" width="1" height="27" fill="#c0c0c0"/>
<rect x="394" y="494" width="1" height="27" fill="#c0c0c0"/>
<rect x="402" y="494" width="1" height="27" fill="#c0c0c0"/>
<rect x="410" y="492" width="1" height="29" fill="#c0c0c0"/>
<rect x="418" y="490" width="1" height="31" fill="#c0c0c0"/>
<rect x="426" y="489" width="1" height="32" fill="#c0c0c0"/>
<rect x="434" y="489" width="1" height="32" fill="#c0c0c0"/>
<rect x="442" y="491" width="1" height="30" fill="#c0c0c0"/>
<rect x="450" y="492" width="1" height="29" fill="#c0c0c0"/>
<rect x="458" y="494" width="1" height="27" fill="#c0c0c0"/>
<rect x="466" y="500" width="1" height="21" fill="#c0c0c0"/>
<rect x="474" y="509" width="1" height="12" fill="#c0c0c0"/>
<rect x="482" y="520" width="1" height="1" fill="#c0c0c0"/>
<rect x="490" y="520" width="1" height="6" fill="#c0c0c0"/>
<rect x="498" y="520" width="1" height="14" fill="#c0c0c0"/>
<rect x="506" y="520" width="1" height="16" fill="#c0c0c0"/>
<rect x="514" y="520" width="1" height="21" fill="#c0c0c0"/>
<rect x="522" y="520" width="1" height="27" fill="#c0c0c0"/>
<rect x="530" y="520" width="1" height="33" fill="#c0c0c0"/>
<rect x="538" y="520" width="1" height="38" fill="#c0c0c0"/>
<rect x="546" y="520" width="1" height="37" fill="#c0c0c0"/>
<rect x="554" y="520" width="1" height="35" fill="#c0c0c0"/>
<rect x="562" y="520" width="1" height="31" fill="#c0c0c0"/>
<rect x="570" y="520" width="1" height="24" fill="#c0c0c0"/>
<rect x="578" y="520" width="1" height="19" fill="#c0c0c0"/>
<rect x="586" y="520" width="1" height="14" fill="#c0c0c0"/>
<rect x="594" y="520" width="1" height="11" fill="#c0c0c0"/>
<rect x="602" y="520" width="1" height="11" fill="#c0c0c0"/>
<rect x="610" y="520" width="1" height="10" fill="#c0c0c0"/>
<rect x="618" y="520" width="1" height="5" fill="#c0c0c0"/>
<rect x="634" y="517" width="1" height="4" fill="#c0c0c0"/>
<rect x="642" y="513" width="1" height="8" fill="#c0c0c0"/>
<rect x="650" y="511" width="1" height="10" fill="#c0c0c0"/>
<rect x="658" y="508" width="1" height="13" fill="#c0c0c0"/>
<rect x="666" y="502" width="1" height="19" fill="#c0c0c0"/>
<rect x="674" y="497" width="1" height="24" fill="#c0c0c0"/>
<rect x="682" y="494" width="1" height="27" fill="#c0c0c0"/>
<rect x="690" y="490" width="1" height="31" fill="#c0c0c0"/>
<rect x="698" y="491" width="1" height="30" fill="#c0c0c0"/>
<rect x="706" y="492" width="1" height="29" fill="#c0c0c0"/>
<rect x="714" y="492" width="1" height="29" fill="#c0c0c0"/>
<rect x="722" y="488" width="1" height="33" fill="#c0c0c0"/>
<rect x="730" y="482" width="1" height="39" fill="#c0c0c0"/>
<rect x="738" y="478" width="1" height="43" fill="#c0c0c0"/>
<rect x="746" y="476" width="1" height="45" fill="#c0c0c0"/>
<rect x="754" y="475" width="1" height="46" fill="#c0c0c0"/>
<rect x="762" y="472" width="1" height="49" fill="#c0c0c0"/>
<rect x="770" y="473" width="1" height="48" fill="#c0c0c0"/>
<rect x="778" y="477" width="1" height="44" fill="#c0c0c0"/>
<rect x="786" y="478" width="1" height="43" fill="#c0c0c0"/>
<rect x="794" y="480" width="1" height="41" fill="#c0c0c0"/>
<rect x="802" y="480" width="1" height="41" fill="#c0c0c0"/>
<rect x="810" y="480" width="1" height="41" fill="#c0c0c0"/>
<rect x="818" y="488" width="1" height="33" fill="#c0c0c0"/>
<rect x="826" y="495" width="1" height="26" fill="#c0c0c0"/>
<rect x="834" y="508" width="1" height="13" fill="#c0c0c0"/>
<rect x="842" y="515" width="1" height="6" fill="#c0c0c0"/>
<rect x="858" y="520" width="1" height="8" fill="#c0c0c0"/>
<rect x="866" y="520" width="1" height="10" fill="#c0c0c0"/>
<rect x="874" y="520" width="1" height="9" fill="#c0c0c0"/>
<rect x="882" y="520" width="1" height="9" fill="#c0c0c0"/>
<rect x="890" y="520" width="1" height="9" fill="#c0c0c0"/>
<rect x="898" y="520" width="1" height="8" fill="#c0c0c0"/>
<rect x="906" y="520" width="1" height="6" fill="#c0c0c0"/>
<rect x="914" y="520" width="1" height="4" fill="#c0c0c0"/>
<rect x="922" y="520" width="1" height="1" fill="#c0c0c0"/>
<rect x="938" y="520" width="1" height="1" fill="#c0c0c0"/>
<rect x="946" y="519" width="1" height="2" fill="#c0c0c0"/>
<rect x="954" y="516" width="1" height="5" fill="#c0c0c0"/>
<rect x="962" y="515" width="1" height="6" fill="#c0c0c0"/>
<rect x="970" y="516" width="1" height="5" fill="#c0c0c0"/>
<rect x="978" y="516" width="1" height="5" fill="#c0c0c0"/>
<rect x="986" y="518" width="1" height="3" fill="#c0c0c0"/>
<rect x="994" y="519" width="1" height="2" fill="#c0c0c0"/>
<rect x="1002" y="520" width="1" height="1" fill="#c0c0c0"/>
<rect x="1010" y="519" width="1" height="2" fill="#c0c0c0"/>
<rect x="1018" y="520" width="1" height="1" fill="#c0c0c0"/>
<rect x="1026" y="520" width="1" height="1" fill="#c0c0c0"/>
<rect x="1034" y="519" width="1" height="2" fill="#c0c0c0"/>
<rect x="1042" y="518" width="1" height="3" fill="#c0c0c0"/>
<rect x="1050" y="517" width="1" height="4" fill="#c0c0c0"/>
<rect x="1058" y="516" width="1" height="5" fill="#c0c0c0"/>
<rect x="1066" y="518" width="1" height="3" fill="#c0c0c0"/>
<rect x="1074" y="518" width="1" height="3" fill="#c0c0c0"/>
<rect x="1082" y="518" width="1" height="3" fill="#c0c0c0"/>
<rect x="1090" y="518" width="1" height="3" fill="#c0c0c0"/>
<rect x="1098" y="516" width="1" height="5" fill="#c0c0c0"/>
<rect x="1106" y="516" width="1" height="5" fill="#c0c0c0"/>
<rect x="1114" y="510" width="1" height="11" fill="#c0c0c0"/>
<rect x="1122" y="506" width="1" height="15" fill="#c0c0c0"/>
<rect x="1130" y="504" width="1" height="17" fill="#c0c0c0"/>
<rect x="1138" y="501" width="1" height="20" fill="#c0c0c0"/>
<rect x="1146" y="500" width="1" height="21" fill="#c0c0c0"/>
<rect x="1154" y="500" width="1" height="21" fill="#c0c0c0"/>
<rect x="1162" y="499" width="1" height="22" fill="#c0c0c0"/>
<rect x="1170" y="497" width="1" height="24" fill="#c0c0c0"/>
<rect x="1178" y="496" width="1" height="25" fill="#c0c0c0"/>
<path d="M10 546h3v1h-3zM16 547h5v1h-5zM24 548h5v1h-5zM32 547h5v1h-5zM40 546h4v1h-4zM44 545h1v1h-1zM48 544h1v1h-1zM49 543h3v1h-3zM52 542h1v1h-1zM56 541h1v1h-1zM57 540h3v1h-3zM60 539h1v1h-1zM64 538h1v1h-1zM65 537h3v1h-3zM68 536h1v1h-1zM72 535h2v1h-2zM74 534h2v1h-2zM76 533h1v1h-1zM80 532h2v1h-2zM82 531h3v1h-3zM88 529h2v1h-2zM90 528h3v1h-3zM96 526h3v1h-3zM99 525h2v1h-2zM104 525h1v1h-1zM105 524h4v1h-4zM112 523h4v1h-4zM116 522h1v1h-1zM120 522h1v1h-1zM121 521h4v1h-4zM128 520h1v1h-1zM129 519h4v1h-4zM136 518h1v1h-1zM137 517h3v1h-3zM140 516h1v1h-1zM144 515h2v1h-2zM146 514h3v1h-3zM152 512h3v1h-3zM155 511h2v1h-2zM160 510h1v1h-1zM161 509h2v1h-2zM163 508h2v1h-2zM168 507h1v1h-1zM169 506h3v1h-3zM172 505h1v1h-1zM176 504h3v1h-3zM179 503h2v1h-2zM184 502h1v1h-1zM185 501h4v1h-4zM192 499h5v1h-5zM200 498h5v1h-5zM208 498h5v1h-5zM216 498h5v1h-5zM224 499h1v1h-1zM225 500h4v1h-4zM232 501h5v1h-5zM240 501h1v1h-1zM241 502h4v1h-4zM248 504h2v1h-2zM250 505h3v1h-3zM256 505h3v1h-3zM259 506h2v1h-2zM264 506h5v1h-5zM272 507h5v1h-5zM280 508h5v1h-5zM288 508h1v1h-1zM289 509h4v1h-4zM296 509h1v1h-1zM297 510h4v1h-4zM304 510h5v1h-5zM312 511h5v1h-5zM320 511h5v1h-5zM328 511h1v1h-1zM329 510h4v1h-4zM336 510h5v1h-5zM344 509h2v1h-2zM346 508h3v1h-3zM352 507h2v1h-2zM354 506h3v1h-3zM360 505h2v1h-2zM362 504h3v1h-3zM368 503h1v1h-1zM369 502h4v1h-4zM376 501h1v1h-1zM377 500h4v1h-4zM384 499h2v1h-2zM386 498h3v1h-3zM392 497h1v1h-1zM393 496h4v1h-4zM400 495h5v1h-5zM408 494h5v1h-5zM416 493h5v1h-5zM424 492h5v1h-5zM432 492h2v1h-2zM434 491h3v1h-3zM440 491h5v1h-5zM448 491h5v1h-5zM456 491h5v1h-5zM464 491h5v1h-5zM472 492h2v1h-2zM474 493h3v1h-3zM480 495h1v1h-1zM481 496h2v1h-2zM483 497h2v1h-2zM488 499h2v1h-2zM490 500h2v1h-2zM492 501h1v1h-1zM496 503h1v1h-1zM497 504h1v1h-1zM498 505h2v1h-2zM500 506h1v1h-1zM504 509h1v1h-1zM505 510h2v1h-2zM507 511h1v1h-1zM508 512h1v1h-1zM512 514h1v1h-1zM513 515h2v1h-2zM515 516h1v1h-1zM516 517h1v1h-1zM520 520h1v1h-1zM521 521h1v1h-1zM522 522h1v1h-1zM523 523h1v1h-1zM524 524h1v1h-1zM528 527h1v1h-1zM529 528h2v1h-2zM531 529h1v1h-1zM532 530h1v1h-1zM536 533h1v1h-1zM537 534h1v1h-1zM538 535h1v1h-1zM539 536h1v1h-1zM540 537h1v1h-1zM544 539h1v1h-1zM545 540h2v1h-2zM547 541h2v1h-2zM552 543h1v1h-1zM553 544h2v1h-2zM555 545h2v1h-2zM560 547h1v1h-1zM561 548h4v1h-4zM568 549h5v1h-5zM576 550h5v1h-5zM584 549h5v1h-5zM592 548h2v1h-2zM594 547h3v1h-3zM600 546h1v1h-1zM601 545h3v1h-3zM604 544h1v1h-1zM608 542h2v1h-2zM610 541h2v1h-2zM612 540h1v1h-1zM616 539h1v1h-1zM617 538h2v1h-2zM619 537h2v1h-2zM624 535h1v1h-1zM625 534h2v1h-2zM627 533h2v1h-2zM632 531h2v1h-2zM634 530h3v1h-3zM640 528h1v1h-1zM641 527h2v1h-2zM643 526h2v1h-2zM648 524h1v1h-1zM649 523h3v1h-3zM652 522h1v1h-1zM656 521h1v1h-1zM657 520h3v1h-3zM660 519h1v1h-1zM664 517h2v1h-2zM666 516h3v1h-3zM672 514h1v1h-1zM673 513h2v1h-2zM675 512h2v1h-2zM680 510h3v1h-3zM683 509h2v1h-2zM688 506h2v1h-2zM690 505h2v1h-2zM692 504h1v1h-1zM696 503h2v1h-2zM698 502h3v1h-3zM704 500h2v1h-2zM706 499h3v1h-3zM712 497h2v1h-2zM714 496h3v1h-3zM720 495h2v1h-2zM722 494h3v1h-3zM728 492h2v1h-2zM730 491h2v1h-2zM732 490h1v1h-1zM736 489h2v1h-2zM738 488h3v1h-3zM744 487h2v1h-2zM746 486h3v1h-3zM752 485h2v1h-2zM754 484h3v1h-3zM760 483h1v1h-1zM761 482h4v1h-4zM768 481h1v1h-1zM769 480h4v1h-4zM776 479h1v1h-1zM777 478h4v1h-4zM784 476h5v1h-5zM792 476h5v1h-5zM800 475h5v1h-5zM808 476h5v1h-5zM816 477h5v1h-5zM824 478h2v1h-2zM826 479h3v1h-3zM832 481h1v1h-1zM833 482h2v1h-2zM835 483h1v1h-1zM836 484h1v1h-1zM840 486h1v1h-1zM841 487h2v1h-2zM843 488h1v1h-1zM844 489h1v1h-1zM848 491h2v1h-2zM850 492h2v1h-2zM852 493h1v1h-1zM856 496h1v1h-1zM857 497h2v1h-2zM859 498h1v1h-1zM860 499h1v1h-1zM864 502h2v1h-2zM866 503h1v1h-1zM867 504h1v1h-1zM868 505h1v1h-1zM872 508h1v1h-1zM873 509h1v1h-1zM874 510h1v1h-1zM875 511h1v1h-1zM876 512h1v1h-1zM880 514h2v1h-2zM882 515h2v1h-2zM884 516h1v1h-1zM888 518h1v1h-1zM889 519h2v1h-2zM891 520h2v1h-2zM896 522h1v1h-1zM897 523h2v1h-2zM899 524h2v1h-2zM904 525h2v1h-2zM906 526h3v1h-3zM912 526h1v1h-1zM913 527h4v1h-4zM920 527h5v1h-5zM928 527h1v1h-1zM929 526h4v1h-4zM936 526h1v1h-1zM937 525h4v1h-4zM944 524h5v1h-5zM952 522h2v1h-2zM954 521h3v1h-3zM960 520h5v1h-5zM968 519h5v1h-5zM976 518h5v1h-5zM984 517h5v1h-5zM992 517h5v1h-5zM1000 517h5v1h-5zM1008 516h5v1h-5zM1016 516h5v1h-5zM1024 517h5v1h-5zM1032 517h5v1h-5zM1040 518h5v1h-5zM1048 518h5v1h-5zM1056 518h5v1h-5zM1064 518h5v1h-5zM1072 517h5v1h-5zM1080 517h5v1h-5zM1088 517h5v1h-5zM1096 517h5v1h-5zM1104 516h5v1h-5zM1112 515h5v1h-5zM1120 514h5v1h-5zM1128 513h5v1h-5zM1136 512h1v1h-1zM1137 511h4v1h-4zM1144 510h2v1h-2zM1146 509h3v1h-3zM1152 508h2v1h-2zM1154 507h3v1h-3zM1160 506h1v1h-1zM1161 505h4v1h-4zM1168 504h1v1h-1zM1169 503h3v1h-3zM1172 502h1v1h-1zM1176 501h1v1h-1zM1177 500h1v1h-1z" fill="#ff0000"/>
</g>
<g id="rsi">
<line x1="11" y1="596.5" x2="1197" y2="596.5" stroke="#c0c0c0" stroke-width="1" stroke-dasharray="3 3"/>
<line x1="11" y1="636.5" x2="1197" y2="636.5" stroke="#c0c0c0" stroke-width="1" stroke-dasharray="3 3"/>
<path d="M10 628h1v1h-1zM11 627h1v1h-1zM12 626h1v1h-1zM13 625h2v1h-2zM15 624h1v1h-1zM16 623h1v1h-1zM17 622h1v1h-1zM18 621h1v1h-1zM19 620h2v1h-2zM21 619h1v1h-1zM22 618h1v1h-1zM23 617h2v1h-2zM25 616h1v1h-1zM26 615h2v1h-2zM28 614h3v1h-3zM31 613h2v1h-2zM33 612h14v1h-14zM47 613h8v1h-8zM55 612h8v1h-8zM63 613h5v1h-5zM68 614h2v1h-2zM70 615h2v1h-2zM72 616h2v1h-2zM74 617h1v1h-1zM75 616h2v1h-2zM77 615h2v1h-2zM79 614h1v1h-1zM80 613h2v1h-2zM82 612h5v1h-5zM87 613h4v1h-4zM91 614h2v1h-2zM93 615h1v1h-1zM94 616h1v1h-1zM95 617h2v1h-2zM97 618h1v1h-1zM98 619h1v1h-1zM99 618h1v1h-1zM100 617h1v1h-1zM101 616h2v1h-2zM103 615h1v1h-1zM104 614h1v1h-1zM105 613h1v1h-1zM106 612h1v1h-1zM107 613h2v1h-2zM109 614h2v1h-2zM111 615h1v1h-1zM112 616h2v1h-2zM114 617h1v1h-1zM115 616h1v1h-1zM116 614h1v2h-1zM117 613h1v1h-1zM118 612h1v1h-1zM119 611h1v1h-1zM120 609h1v2h-1zM121 608h1v1h-1zM122 607h2v1h-2zM124 606h2v1h-2zM126 605h2v1h-2zM128 604h2v1h-2zM130 603h3v1h-3zM133 604h4v1h-4zM137 605h6v1h-6zM143 604h6v1h-6zM149 603h4v1h-4zM153 602h14v1h-14zM167 601h4v1h-4zM171 602h1v1h-1zM172 603h1v2h-1zM173 605h1v1h-1zM174 606h1v1h-1zM175 607h1v1h-1zM176 608h1v2h-1zM177 610h1v1h-1zM178 611h13v1h-13zM191 610h5v1h-5zM196 611h3v1h-3zM199 612h2v1h-2zM201 613h10v1h-10zM211 614h1v2h-1zM212 616h1v1h-1zM213 617h1v2h-1zM214 619h1v1h-1zM215 620h1v2h-1zM216 622h1v1h-1zM217 623h1v2h-1zM218 625h1v1h-1zM219 623h1v2h-1zM220 622h1v1h-1zM221 620h1v2h-1zM222 619h1v1h-1zM223 617h1v2h-1zM224 616h1v1h-1zM225 614h1v2h-1zM226 613h1v1h-1zM227 612h2v1h-2zM229 611h2v1h-2zM231 610h1v1h-1zM232 609h2v1h-2zM234 608h3v1h-3zM237 609h4v1h-4zM241 610h4v1h-4zM245 611h4v1h-4zM249 612h12v1h-12zM261 613h4v1h-4zM265 614h4v1h-4zM269 615h4v1h-4zM273 616h3v1h-3zM276 617h3v1h-3zM279 618h2v1h-2zM281 619h4v1h-4zM285 618h4v1h-4zM289 617h10v1h-10zM299 616h1v1h-1zM300 615h1v1h-1zM301 614h2v1h-2zM303 613h1v1h-1zM304 612h1v1h-1zM305 611h1v1h-1zM306 610h1v1h-1zM307 609h2v1h-2zM309 608h2v1h-2zM311 607h1v1h-1zM312 606h2v1h-2zM314 605h3v1h-3zM317 606h4v1h-4zM321 607h2v1h-2zM323 606h2v1h-2zM325 605h2v1h-2zM327 604h1v1h-1zM328 603h2v1h-2zM330 602h13v1h-13zM343 603h13v1h-13zM356 602h2v1h-2zM358 601h2v1h-2zM360 600h2v1h-2zM362 599h1v1h-1zM363 600h1v2h-1zM364 602h1v1h-1zM365 603h1v2h-1zM366 605h1v1h-1zM367 606h1v2h-1zM368 608h1v1h-1zM369 609h1v2h-1zM370 611h2v1h-2zM372 610h2v1h-2zM374 609h2v1h-2zM376 608h2v1h-2zM378 607h3v1h-3zM381 606h4v1h-4zM385 605h6v1h-6zM391 604h6v1h-6zM397 605h4v1h-4zM401 606h3v1h-3zM404 605h2v1h-2zM406 604h2v1h-2zM408 603h2v1h-2zM410 602h3v1h-3zM413 601h4v1h-4zM417 600h6v1h-6zM423 601h8v1h-8zM431 602h4v1h-4zM435 603h2v1h-2zM437 604h1v1h-1zM438 605h1v1h-1zM439 606h2v1h-2zM441 607h1v1h-1zM442 608h3v1h-3zM445 607h4v1h-4zM449 606h2v1h-2zM451 607h2v1h-2zM453 608h2v1h-2zM455 609h1v1h-1zM456 610h2v1h-2zM458 611h1v1h-1zM459 612h1v1h-1zM460 613h1v1h-1zM461 614h1v1h-1zM462 615h1v2h-1zM463 617h1v1h-1zM464 618h1v1h-1zM465 619h1v1h-1zM466 620h1v1h-1zM467 621h1v1h-1zM468 622h1v1h-1zM469 623h1v1h-1zM470 624h1v1h-1zM471 625h1v1h-1zM472 626h1v1h-1zM473 627h1v1h-1zM474 628h2v1h-2zM476 629h2v1h-2zM478 630h2v1h-2zM480 631h2v1h-2zM482 632h3v1h-3zM485 631h4v1h-4zM489 630h3v1h-3zM492 631h3v1h-3zM495 632h2v1h-2zM497 633h2v1h-2zM499 632h1v1h-1zM500 631h1v1h-1zM501 630h1v1h-1zM502 629h1v1h-1zM503 628h1v1h-1zM504 627h1v1h-1zM505 626h1v1h-1zM506 625h2v1h-2zM508 626h2v1h-2zM510 627h2v1h-2zM512 628h2v1h-2zM514 629h2v1h-2zM516 630h2v1h-2zM518 631h2v1h-2zM520 632h2v1h-2zM522 633h5v1h-5zM527 634h6v1h-6zM533 635h4v1h-4zM537 636h2v1h-2zM539 634h1v2h-1zM540 633h1v1h-1zM541 632h1v1h-1zM542 630h1v2h-1zM543 629h1v1h-1zM544 628h1v1h-1zM545 626h1v2h-1zM546 625h3v1h-3zM549 624h4v1h-4zM553 623h2v1h-2zM555 622h2v1h-2zM557 621h1v1h-1zM558 620h1v1h-1zM559 619h2v1h-2zM561 618h1v1h-1zM562 617h2v1h-2zM564 616h2v1h-2zM566 615h2v1h-2zM568 614h2v1h-2zM570 613h11v1h-11zM581 612h4v1h-4zM585 611h2v1h-2zM587 612h2v1h-2zM589 613h2v1h-2zM591 614h1v1h-1zM592 615h2v1h-2zM594 616h2v1h-2zM596 617h3v1h-3zM599 618h2v1h-2zM601 619h4v1h-4zM605 618h4v1h-4zM609 617h2v1h-2zM611 616h1v1h-1zM612 615h1v1h-1zM613 614h2v1h-2zM615 613h1v1h-1zM616 612h1v1h-1zM617 611h1v1h-1zM618 610h3v1h-3zM621 609h4v1h-4zM625 608h12v1h-12zM637 607h4v1h-4zM641 606h3v1h-3zM644 607h3v1h-3zM647 608h2v1h-2zM649 609h4v1h-4zM653 608h4v1h-4zM657 607h2v1h-2zM659 606h2v1h-2zM661 605h1v1h-1zM662 604h1v1h-1zM663 603h2v1h-2zM665 602h1v1h-1zM666 601h5v1h-5zM671 600h13v1h-13zM684 599h3v1h-3zM687 598h2v1h-2zM689 597h2v1h-2zM691 598h1v2h-1zM692 600h1v1h-1zM693 601h1v1h-1zM694 602h1v2h-1zM695 604h1v1h-1zM696 605h1v1h-1zM697 606h1v2h-1zM698 608h11v1h-11zM709 607h4v1h-4zM713 606h2v1h-2zM715 605h1v1h-1zM716 604h1v1h-1zM717 603h2v1h-2zM719 602h1v1h-1zM720 601h1v1h-1zM721 600h1v1h-1zM722 599h2v1h-2zM724 598h2v1h-2zM726 597h2v1h-2zM728 596h2v1h-2zM730 595h5v1h-5zM735 596h6v1h-6zM741 597h4v1h-4zM745 598h11v1h-11zM756 597h3v1h-3zM759 596h2v1h-2zM761 595h2v1h-2zM763 596h1v1h-1zM764 597h1v1h-1zM765 598h2v1h-2zM767 599h1v1h-1zM768 600h1v1h-1zM769 601h1v1h-1zM770 602h1v1h-1zM771 603h1v1h-1zM772 604h1v1h-1zM773 605h2v1h-2zM775 606h1v1h-1zM776 607h1v1h-1zM777 608h1v1h-1zM778 609h1v1h-1zM779 608h2v1h-2zM781 607h2v1h-2zM783 606h1v1h-1zM784 605h2v1h-2zM786 604h3v1h-3zM789 605h4v1h-4zM793 606h4v1h-4zM797 605h4v1h-4zM801 604h4v1h-4zM805 603h4v1h-4zM809 602h2v1h-2zM810 603h1v1h-1zM811 604h1v2h-1zM812 606h1v2h-1zM813 608h1v2h-1zM814 610h1v2h-1zM815 612h1v2h-1zM816 614h1v2h-1zM817 616h1v2h-1zM818 618h3v1h-3zM821 619h4v1h-4zM825 620h2v1h-2zM827 621h1v1h-1zM828 622h1v1h-1zM829 623h1v1h-1zM830 624h1v2h-1zM831 626h1v1h-1zM832 627h1v1h-1zM833 628h1v1h-1zM834 629h1v1h-1zM835 628h1v1h-1zM836 627h1v1h-1zM837 626h2v1h-2zM839 625h1v1h-1zM840 624h1v1h-1zM841 623h1v1h-1zM842 622h5v1h-5zM847 623h5v1h-5zM852 624h2v1h-2zM854 625h2v1h-2zM856 626h2v1h-2zM858 627h1v1h-1zM859 626h2v1h-2zM861 625h1v1h-1zM862 624h1v1h-1zM863 623h2v1h-2zM865 622h1v1h-1zM866 621h2v1h-2zM868 620h3v1h-3zM871 619h2v1h-2zM873 618h6v1h-6zM879 617h6v1h-6zM885 618h4v1h-4zM889 619h3v1h-3zM892 618h3v1h-3zM895 617h2v1h-2zM897 616h4v1h-4zM901 615h4v1h-4zM905 614h14v1h-14zM919 613h16v1h-16zM935 614h6v1h-6zM941 613h4v1h-4zM945 612h4v1h-4zM949 611h4v1h-4zM953 610h4v1h-4zM957 611h4v1h-4zM961 612h3v1h-3zM964 613h3v1h-3zM967 614h2v1h-2zM969 615h6v1h-6zM975 614h5v1h-5zM980 615h2v1h-2zM982 616h2v1h-2zM984 617h2v1h-2zM986 618h13v1h-13zM999 619h4v1h-4zM1003 618h2v1h-2zM1005 617h1v1h-1zM1006 616h1v1h-1zM1007 615h2v1h-2zM1009 614h1v1h-1zM1010 613h2v1h-2zM1012 614h2v1h-2zM1014 615h2v1h-2zM1016 616h2v1h-2zM1018 617h5v1h-5zM1023 616h5v1h-5zM1028 615h3v1h-3zM1031 614h2v1h-2zM1033 613h4v1h-4zM1037 612h4v1h-4zM1041 611h4v1h-4zM1045 612h4v1h-4zM1049 613h4v1h-4zM1053 612h4v1h-4zM1057 611h2v1h-2zM1059 612h1v1h-1zM1060 613h1v2h-1zM1061 615h1v1h-1zM1062 616h1v1h-1zM1063 617h1v1h-1zM1064 618h1v2h-1zM1065 620h1v1h-1zM1066 621h1v1h-1zM1067 620h1v1h-1zM1068 619h1v1h-1zM1069 618h1v1h-1zM1070 617h1v1h-1zM1071 616h1v1h-1zM1072 615h1v1h-1zM1073 614h1v1h-1zM1074 613h5v1h-5zM1079 614h8v1h-8zM1087 613h6v1h-6zM1093 612h4v1h-4zM1097 611h10v1h-10zM1107 609h1v2h-1zM1108 608h1v1h-1zM1109 606h1v2h-1zM1110 605h1v1h-1zM1111 603h1v2h-1zM1112 602h1v1h-1zM1113 600h1v2h-1zM1114 599h3v1h-3zM1117 600h4v1h-4zM1121 601h22v1h-22zM1143 600h4v1h-4zM1147 601h2v1h-2zM1149 602h1v1h-1zM1150 603h1v1h-1zM1151 604h2v1h-2zM1153 605h1v1h-1zM1154 606h1v1h-1zM1155 605h2v1h-2zM1157 604h2v1h-2zM1159 603h1v1h-1zM1160 602h2v1h-2zM1162 601h3v1h-3zM1165 600h4v1h-4zM1169 599h9v1h-9z" fill="#1488ff"/>
</g>
<g id="frame" fill="#000">
<rect x="9" y="3" width="1" height="664"/>
<rect x="1197" y="3" width="1" height="664"/>
<rect x="9" y="3" width="1189" height="1"/>
<rect x="9" y="463" width="1189" height="1"/>
<rect x="9" y="465" width="1189" height="1"/>
<rect x="9" y="563" width="1189" height="1"/>
<rect x="9" y="565" width="1189" height="1"/>
<rect x="9" y="666" width="1189" height="1"/>
</g>
<g id="hlines">
<rect x="1197" y="36" width="1" height="1" fill="#d0bed0"/>
<rect x="10" y="37" width="1188" height="2" fill="#00d400"/>
<rect x="10" y="129" width="1188" height="2" fill="#3850e4"/>
<rect x="10" y="221" width="1188" height="2" fill="#2800ff"/>
<rect x="10" y="302" width="1188" height="2" fill="#3850e4"/>
</g>
<g id="axis">
<rect x="1198" y="64" width="2" height="1" fill="#000"/>
<text x="1203.8" y="68.3" textLength="31.2" lengthAdjust="spacingAndGlyphs">113.850</text>
<rect x="1198" y="97" width="2" height="1" fill="#000"/>
<text x="1203.8" y="101.3" textLength="31.2" lengthAdjust="spacingAndGlyphs">112.450</text>
<rect x="1198" y="130" width="2" height="1" fill="#000"/>
<rect x="1198" y="163" width="2" height="1" fill="#000"/>
<text x="1203.8" y="167.3" textLength="31.2" lengthAdjust="spacingAndGlyphs">109.570</text>
<rect x="1198" y="196" width="2" height="1" fill="#000"/>
<text x="1203.8" y="200.3" textLength="31.2" lengthAdjust="spacingAndGlyphs">108.130</text>
<rect x="1198" y="229" width="2" height="1" fill="#000"/>
<text x="1203.8" y="233.3" textLength="31.2" lengthAdjust="spacingAndGlyphs">106.690</text>
<rect x="1198" y="262" width="2" height="1" fill="#000"/>
<text x="1203.8" y="266.3" textLength="31.2" lengthAdjust="spacingAndGlyphs">105.290</text>
<rect x="1198" y="295" width="2" height="1" fill="#000"/>
<text x="1203.8" y="299.3" textLength="31.2" lengthAdjust="spacingAndGlyphs">103.850</text>
<rect x="1198" y="328" width="2" height="1" fill="#000"/>
<text x="1203.8" y="332.3" textLength="31.2" lengthAdjust="spacingAndGlyphs">102.410</text>
<rect x="1198" y="361" width="2" height="1" fill="#000"/>
<text x="1203.8" y="365.3" textLength="31.2" lengthAdjust="spacingAndGlyphs">100.970</text>
<rect x="1198" y="394" width="2" height="1" fill="#000"/>
<text x="1203.8" y="398.3" textLength="25.6" lengthAdjust="spacingAndGlyphs">99.530</text>
<rect x="1198" y="427" width="2" height="1" fill="#000"/>
<text x="1203.8" y="431.3" textLength="25.6" lengthAdjust="spacingAndGlyphs">98.090</text>
<rect x="1198" y="460" width="2" height="1" fill="#000"/>
<text x="1203.8" y="464.3" textLength="25.6" lengthAdjust="spacingAndGlyphs">96.690</text>
<g clip-path="url(#ct)"><text x="1203.8" y="35.3" textLength="31.2" lengthAdjust="spacingAndGlyphs">115.290</text></g>
<rect x="1198" y="31" width="41" height="1" fill="#000"/>
<rect x="1200" y="32" width="39" height="11" fill="#00d400"/>
<text class="w" x="1203.8" y="41.3" textLength="31.2" lengthAdjust="spacingAndGlyphs">115.000</text>
<rect x="1200" y="124" width="39" height="11" fill="#3850e4"/>
<text class="w" x="1203.8" y="133.3" textLength="31.2" lengthAdjust="spacingAndGlyphs">111.000</text>
<rect x="1200" y="216" width="39" height="11" fill="#2800ff"/>
<text class="w" x="1203.8" y="225.3" textLength="31.2" lengthAdjust="spacingAndGlyphs">107.000</text>
<rect x="1200" y="297" width="39" height="11" fill="#3850e4"/>
<text class="w" x="1203.8" y="306.3" textLength="31.2" lengthAdjust="spacingAndGlyphs">103.500</text>
<rect x="1198" y="467" width="1" height="1" fill="#000"/>
<text x="1201" y="476.5" textLength="27.5" lengthAdjust="spacingAndGlyphs">2.5593</text>
<rect x="1198" y="520" width="2" height="1" fill="#000"/>
<text x="1201" y="524" textLength="17.5" lengthAdjust="spacingAndGlyphs">0.00</text>
<rect x="1198" y="562" width="1" height="1" fill="#000"/>
<text x="1201" y="560.4" textLength="30.5" lengthAdjust="spacingAndGlyphs">-2.0366</text>
<rect x="1198" y="567" width="1" height="1" fill="#000"/>
<text x="1201.6" y="575.6" textLength="13.4" lengthAdjust="spacingAndGlyphs">100</text>
<text x="1200" y="600.3" textLength="9.2" lengthAdjust="spacingAndGlyphs">70</text>
<text x="1200" y="640" textLength="9.2" lengthAdjust="spacingAndGlyphs">30</text>
<rect x="1198" y="665" width="1" height="1" fill="#000"/>
<text x="1200.8" y="663" textLength="5" lengthAdjust="spacingAndGlyphs">0</text>
</g>
<g id="titles">
<path d="M13 10h7l-3.5 4z" fill="#000" shape-rendering="geometricPrecision"/>
<text x="24.3" y="15" textLength="44" lengthAdjust="spacingAndGlyphs">USOil-,H4</text>
<text x="74.6" y="15" textLength="32" lengthAdjust="spacingAndGlyphs">115.137</text>
<text x="110.5" y="15" textLength="32" lengthAdjust="spacingAndGlyphs">115.176</text>
<text x="146.4" y="15" textLength="32" lengthAdjust="spacingAndGlyphs">115.036</text>
<text x="182.3" y="15" textLength="32" lengthAdjust="spacingAndGlyphs">115.068</text>
<text x="13.7" y="478.3" textLength="66.2" lengthAdjust="spacingAndGlyphs">MACD(12,26,9)</text>
<text x="83.6" y="478.3" textLength="26.8" lengthAdjust="spacingAndGlyphs">1.2093</text>
<text x="113.4" y="478.3" textLength="28.2" lengthAdjust="spacingAndGlyphs">0.9364</text>
<text x="13.7" y="578.3" textLength="31.6" lengthAdjust="spacingAndGlyphs">RSI(14)</text>
<text x="48.4" y="578.3" textLength="33" lengthAdjust="spacingAndGlyphs">66.8072</text>
</g>
<g id="dates">
<rect x="10" y="667" width="1" height="3" fill="#000"/>
<text x="8.9" y="678.7" textLength="27.4" lengthAdjust="spacingAndGlyphs">26 Apr</text>
<text x="40.0" y="678.7" textLength="19" lengthAdjust="spacingAndGlyphs">2022</text>
<rect x="74" y="667" width="1" height="3" fill="#000"/>
<text x="72.9" y="678.7" textLength="27.4" lengthAdjust="spacingAndGlyphs">27 Apr</text>
<text x="105.3" y="678.7" textLength="21.2" lengthAdjust="spacingAndGlyphs">12:00</text>
<rect x="138" y="667" width="1" height="3" fill="#000"/>
<text x="136.9" y="678.7" textLength="27.4" lengthAdjust="spacingAndGlyphs">28 Apr</text>
<text x="169.0" y="678.7" textLength="21.2" lengthAdjust="spacingAndGlyphs">20:00</text>
<rect x="202" y="667" width="1" height="3" fill="#000"/>
<text x="200.9" y="678.7" textLength="25.1" lengthAdjust="spacingAndGlyphs">2 May</text>
<text x="232.2" y="678.7" textLength="21" lengthAdjust="spacingAndGlyphs">00:00</text>
<rect x="266" y="667" width="1" height="3" fill="#000"/>
<text x="264.9" y="678.7" textLength="25.1" lengthAdjust="spacingAndGlyphs">3 May</text>
<text x="296.2" y="678.7" textLength="21" lengthAdjust="spacingAndGlyphs">08:00</text>
<rect x="330" y="667" width="1" height="3" fill="#000"/>
<text x="328.9" y="678.7" textLength="25.1" lengthAdjust="spacingAndGlyphs">4 May</text>
<text x="360.5" y="678.7" textLength="21" lengthAdjust="spacingAndGlyphs">16:00</text>
<rect x="394" y="667" width="1" height="3" fill="#000"/>
<text x="392.9" y="678.7" textLength="25.1" lengthAdjust="spacingAndGlyphs">6 May</text>
<text x="424.2" y="678.7" textLength="21" lengthAdjust="spacingAndGlyphs">00:00</text>
<rect x="458" y="667" width="1" height="3" fill="#000"/>
<text x="456.9" y="678.7" textLength="25.1" lengthAdjust="spacingAndGlyphs">9 May</text>
<text x="488.2" y="678.7" textLength="21" lengthAdjust="spacingAndGlyphs">04:00</text>
<rect x="522" y="667" width="1" height="3" fill="#000"/>
<text x="521.2" y="678.7" textLength="30.6" lengthAdjust="spacingAndGlyphs">10 May</text>
<text x="557.1" y="678.7" textLength="21.2" lengthAdjust="spacingAndGlyphs">12:00</text>
<rect x="586" y="667" width="1" height="3" fill="#000"/>
<text x="585.2" y="678.7" textLength="30.6" lengthAdjust="spacingAndGlyphs">11 May</text>
<text x="620.8" y="678.7" textLength="21.2" lengthAdjust="spacingAndGlyphs">20:00</text>
<rect x="650" y="667" width="1" height="3" fill="#000"/>
<text x="649.2" y="678.7" textLength="30.6" lengthAdjust="spacingAndGlyphs">13 May</text>
<text x="684.8" y="678.7" textLength="21.2" lengthAdjust="spacingAndGlyphs">04:00</text>
<rect x="714" y="667" width="1" height="3" fill="#000"/>
<text x="713.2" y="678.7" textLength="30.6" lengthAdjust="spacingAndGlyphs">16 May</text>
<text x="748.8" y="678.7" textLength="21.2" lengthAdjust="spacingAndGlyphs">08:00</text>
<rect x="778" y="667" width="1" height="3" fill="#000"/>
<text x="777.2" y="678.7" textLength="30.6" lengthAdjust="spacingAndGlyphs">17 May</text>
<text x="813.1" y="678.7" textLength="21.2" lengthAdjust="spacingAndGlyphs">16:00</text>
<rect x="842" y="667" width="1" height="3" fill="#000"/>
<text x="841.2" y="678.7" textLength="30.6" lengthAdjust="spacingAndGlyphs">19 May</text>
<text x="876.8" y="678.7" textLength="21.2" lengthAdjust="spacingAndGlyphs">00:00</text>
<rect x="906" y="667" width="1" height="3" fill="#000"/>
<text x="904.9" y="678.7" textLength="30.6" lengthAdjust="spacingAndGlyphs">20 May</text>
<text x="940.8" y="678.7" textLength="21.2" lengthAdjust="spacingAndGlyphs">08:00</text>
<rect x="970" y="667" width="1" height="3" fill="#000"/>
<text x="968.9" y="678.7" textLength="30.6" lengthAdjust="spacingAndGlyphs">23 May</text>
<text x="1005.1" y="678.7" textLength="21.2" lengthAdjust="spacingAndGlyphs">12:00</text>
<rect x="1034" y="667" width="1" height="3" fill="#000"/>
<text x="1032.9" y="678.7" textLength="30.6" lengthAdjust="spacingAndGlyphs">24 May</text>
<text x="1068.8" y="678.7" textLength="21.2" lengthAdjust="spacingAndGlyphs">20:00</text>
<rect x="1098" y="667" width="1" height="3" fill="#000"/>
<text x="1096.9" y="678.7" textLength="30.6" lengthAdjust="spacingAndGlyphs">26 May</text>
<text x="1132.8" y="678.7" textLength="21.2" lengthAdjust="spacingAndGlyphs">04:00</text>
<rect x="1162" y="667" width="1" height="3" fill="#000"/>
<text x="1160.9" y="678.7" textLength="30.6" lengthAdjust="spacingAndGlyphs">27 May</text>
<text x="1197.1" y="678.7" textLength="21.2" lengthAdjust="spacingAndGlyphs">12:00</text>
</g>
</svg></body></html>
